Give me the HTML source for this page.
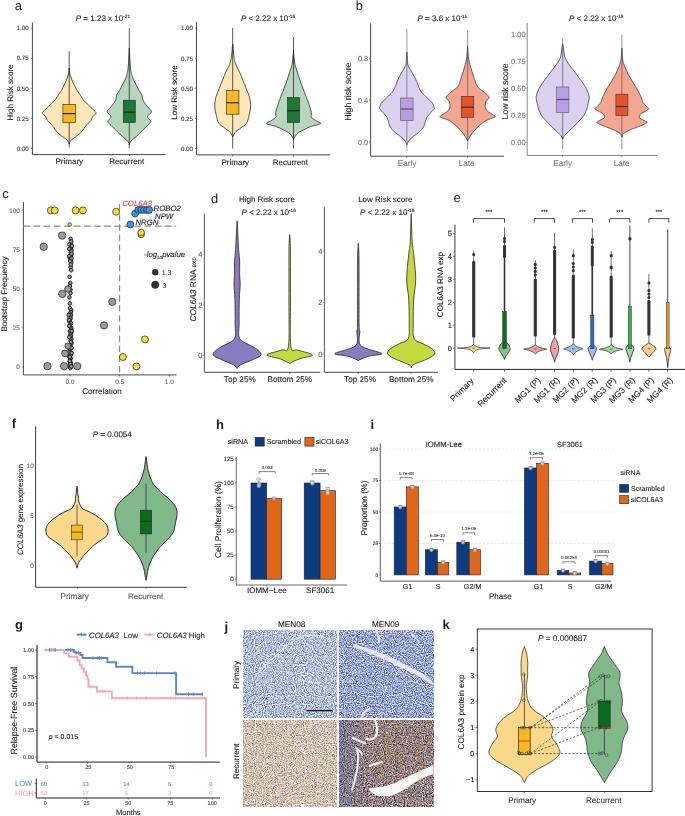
<!DOCTYPE html>
<html><head><meta charset="utf-8"><style>
html,body{margin:0;padding:0;background:#fff;}
svg{display:block;font-family:"Liberation Sans", sans-serif;will-change:transform;text-rendering:geometricPrecision;}
</style></head><body>
<svg width="685" height="816" viewBox="0 0 685 816">
<rect width="685" height="816" fill="#fff"/>
<text x="14.80" y="10.20" font-size="13" text-anchor="start" fill="#222" font-weight="normal" font-style="normal" >a</text>
<line x1="32.40" y1="22.60" x2="32.40" y2="154.60" stroke="#333" stroke-width="0.9" />
<line x1="30.90" y1="28.20" x2="32.40" y2="28.20" stroke="#333" stroke-width="0.6" />
<text stroke="#333" stroke-width="0.1" x="28.70" y="30.43" font-size="6.2" text-anchor="end" fill="#333" font-weight="normal" font-style="normal" >1.00</text>
<line x1="30.90" y1="58.25" x2="32.40" y2="58.25" stroke="#333" stroke-width="0.6" />
<text stroke="#333" stroke-width="0.1" x="28.70" y="60.48" font-size="6.2" text-anchor="end" fill="#333" font-weight="normal" font-style="normal" >0.75</text>
<line x1="30.90" y1="88.30" x2="32.40" y2="88.30" stroke="#333" stroke-width="0.6" />
<text stroke="#333" stroke-width="0.1" x="28.70" y="90.53" font-size="6.2" text-anchor="end" fill="#333" font-weight="normal" font-style="normal" >0.50</text>
<line x1="30.90" y1="118.35" x2="32.40" y2="118.35" stroke="#333" stroke-width="0.6" />
<text stroke="#333" stroke-width="0.1" x="28.70" y="120.58" font-size="6.2" text-anchor="end" fill="#333" font-weight="normal" font-style="normal" >0.25</text>
<line x1="30.90" y1="148.40" x2="32.40" y2="148.40" stroke="#333" stroke-width="0.6" />
<text stroke="#333" stroke-width="0.1" x="28.70" y="150.63" font-size="6.2" text-anchor="end" fill="#333" font-weight="normal" font-style="normal" >0.00</text>
<line x1="32.40" y1="154.60" x2="165.60" y2="154.60" stroke="#333" stroke-width="0.9" />
<line x1="68.90" y1="154.60" x2="68.90" y2="156.10" stroke="#333" stroke-width="0.7" />
<line x1="129.50" y1="154.60" x2="129.50" y2="156.10" stroke="#333" stroke-width="0.7" />
<text stroke="#222" stroke-width="0.1" x="75.80" y="21.40" font-size="8" fill="#222"><tspan font-style="italic">P</tspan> = 1.23 x 10<tspan font-size="4.8" dy="-3">-21</tspan></text>
<text stroke="#222" stroke-width="0.1" transform="translate(13.00,92.50) rotate(-90)" font-size="8" text-anchor="middle" fill="#222" font-style="normal" >High Risk score</text>
<text stroke="#222" stroke-width="0.1" x="69.30" y="163.90" font-size="8" text-anchor="middle" fill="#222" font-weight="normal" font-style="normal" >Primary</text>
<text stroke="#222" stroke-width="0.1" x="126.70" y="163.90" font-size="8" text-anchor="middle" fill="#222" font-weight="normal" font-style="normal" >Recurrent</text>
<path d="M69.20,68.00 C69.27,68.67 69.42,70.80 69.60,72.00 C69.78,73.20 70.00,74.12 70.30,75.20 C70.60,76.28 70.97,77.32 71.40,78.50 C71.83,79.68 72.33,81.05 72.90,82.30 C73.47,83.55 74.22,84.83 74.80,86.00 C75.38,87.17 75.67,88.05 76.40,89.30 C77.13,90.55 78.40,92.30 79.20,93.50 C80.00,94.70 80.62,95.55 81.20,96.50 C81.78,97.45 82.12,98.37 82.70,99.20 C83.28,100.03 84.00,100.80 84.70,101.50 C85.40,102.20 86.05,102.62 86.90,103.40 C87.75,104.18 88.62,105.03 89.80,106.20 C90.98,107.37 92.95,109.23 94.00,110.40 C95.05,111.57 96.33,112.13 96.10,113.20 C95.87,114.27 93.43,115.62 92.60,116.80 C91.77,117.98 91.83,119.25 91.10,120.30 C90.37,121.35 89.27,121.93 88.20,123.10 C87.13,124.27 85.75,125.90 84.70,127.30 C83.65,128.70 83.20,130.08 81.90,131.50 C80.60,132.92 78.67,134.38 76.90,135.80 C75.13,137.22 72.50,138.95 71.30,140.00 C70.10,141.05 70.05,141.43 69.70,142.10 C69.35,142.77 69.28,143.68 69.20,144.00 L69.20,144.00 C69.12,143.68 69.05,142.77 68.70,142.10 C68.35,141.43 68.30,141.05 67.10,140.00 C65.90,138.95 63.27,137.22 61.50,135.80 C59.73,134.38 57.80,132.92 56.50,131.50 C55.20,130.08 54.75,128.70 53.70,127.30 C52.65,125.90 51.27,124.27 50.20,123.10 C49.13,121.93 48.03,121.35 47.30,120.30 C46.57,119.25 46.63,117.98 45.80,116.80 C44.97,115.62 42.53,114.27 42.30,113.20 C42.07,112.13 43.35,111.57 44.40,110.40 C45.45,109.23 47.42,107.37 48.60,106.20 C49.78,105.03 50.65,104.18 51.50,103.40 C52.35,102.62 53.00,102.20 53.70,101.50 C54.40,100.80 55.12,100.03 55.70,99.20 C56.28,98.37 56.62,97.45 57.20,96.50 C57.78,95.55 58.40,94.70 59.20,93.50 C60.00,92.30 61.27,90.55 62.00,89.30 C62.73,88.05 63.02,87.17 63.60,86.00 C64.18,84.83 64.93,83.55 65.50,82.30 C66.07,81.05 66.57,79.68 67.00,78.50 C67.43,77.32 67.80,76.28 68.10,75.20 C68.40,74.12 68.62,73.20 68.80,72.00 C68.98,70.80 69.13,68.67 69.20,68.00 Z" fill="#FDE6B8" stroke="#1e1e1e" stroke-width="0.75" />
<line x1="69.20" y1="51.40" x2="69.20" y2="147.50" stroke="#222" stroke-width="0.75" />
<rect x="62.90" y="104.40" width="12.60" height="18.20" fill="#F8B821" stroke="#222" stroke-width="0.6" />
<line x1="62.90" y1="113.60" x2="75.50" y2="113.60" stroke="#222" stroke-width="1.2" />
<path d="M129.30,48.00 C129.35,48.95 129.47,51.17 129.60,53.70 C129.73,56.23 129.88,60.28 130.10,63.20 C130.32,66.12 130.58,69.15 130.90,71.20 C131.22,73.25 131.60,74.17 132.00,75.50 C132.40,76.83 132.55,77.53 133.30,79.20 C134.05,80.87 135.57,83.65 136.50,85.50 C137.43,87.35 137.98,88.70 138.90,90.30 C139.82,91.90 141.35,93.50 142.00,95.10 C142.65,96.70 142.13,98.30 142.80,99.90 C143.47,101.50 144.95,103.27 146.00,104.70 C147.05,106.13 148.17,107.32 149.10,108.50 C150.03,109.68 151.65,110.75 151.60,111.80 C151.55,112.85 149.47,113.87 148.80,114.80 C148.13,115.73 147.27,116.30 147.60,117.40 C147.93,118.50 150.80,120.07 150.80,121.40 C150.80,122.73 148.93,123.95 147.60,125.40 C146.27,126.85 144.38,128.52 142.80,130.10 C141.22,131.68 139.82,133.30 138.10,134.90 C136.38,136.50 133.88,138.37 132.50,139.70 C131.12,141.03 130.33,142.02 129.80,142.90 C129.27,143.78 129.38,144.65 129.30,145.00 L129.30,145.00 C129.22,144.65 129.33,143.78 128.80,142.90 C128.27,142.02 127.48,141.03 126.10,139.70 C124.72,138.37 122.22,136.50 120.50,134.90 C118.78,133.30 117.38,131.68 115.80,130.10 C114.22,128.52 112.33,126.85 111.00,125.40 C109.67,123.95 107.80,122.73 107.80,121.40 C107.80,120.07 110.67,118.50 111.00,117.40 C111.33,116.30 110.47,115.73 109.80,114.80 C109.13,113.87 107.05,112.85 107.00,111.80 C106.95,110.75 108.57,109.68 109.50,108.50 C110.43,107.32 111.55,106.13 112.60,104.70 C113.65,103.27 115.13,101.50 115.80,99.90 C116.47,98.30 115.95,96.70 116.60,95.10 C117.25,93.50 118.78,91.90 119.70,90.30 C120.62,88.70 121.17,87.35 122.10,85.50 C123.03,83.65 124.55,80.87 125.30,79.20 C126.05,77.53 126.20,76.83 126.60,75.50 C127.00,74.17 127.38,73.25 127.70,71.20 C128.02,69.15 128.28,66.12 128.50,63.20 C128.72,60.28 128.87,56.23 129.00,53.70 C129.13,51.17 129.25,48.95 129.30,48.00 Z" fill="#B7D6BD" stroke="#1e1e1e" stroke-width="0.75" />
<line x1="129.30" y1="28.20" x2="129.30" y2="148.50" stroke="#222" stroke-width="0.75" />
<rect x="123.35" y="100.20" width="11.90" height="22.30" fill="#1E7A33" stroke="#222" stroke-width="0.6" />
<line x1="123.35" y1="112.10" x2="135.25" y2="112.10" stroke="#222" stroke-width="1.2" />
<line x1="196.50" y1="22.10" x2="196.50" y2="154.90" stroke="#333" stroke-width="0.9" />
<line x1="195.00" y1="28.20" x2="196.50" y2="28.20" stroke="#333" stroke-width="0.6" />
<text stroke="#333" stroke-width="0.1" x="193.00" y="30.43" font-size="6.2" text-anchor="end" fill="#333" font-weight="normal" font-style="normal" >1.00</text>
<line x1="195.00" y1="58.28" x2="196.50" y2="58.28" stroke="#333" stroke-width="0.6" />
<text stroke="#333" stroke-width="0.1" x="193.00" y="60.51" font-size="6.2" text-anchor="end" fill="#333" font-weight="normal" font-style="normal" >0.75</text>
<line x1="195.00" y1="88.35" x2="196.50" y2="88.35" stroke="#333" stroke-width="0.6" />
<text stroke="#333" stroke-width="0.1" x="193.00" y="90.58" font-size="6.2" text-anchor="end" fill="#333" font-weight="normal" font-style="normal" >0.50</text>
<line x1="195.00" y1="118.42" x2="196.50" y2="118.42" stroke="#333" stroke-width="0.6" />
<text stroke="#333" stroke-width="0.1" x="193.00" y="120.66" font-size="6.2" text-anchor="end" fill="#333" font-weight="normal" font-style="normal" >0.25</text>
<line x1="195.00" y1="148.50" x2="196.50" y2="148.50" stroke="#333" stroke-width="0.6" />
<text stroke="#333" stroke-width="0.1" x="193.00" y="150.73" font-size="6.2" text-anchor="end" fill="#333" font-weight="normal" font-style="normal" >0.00</text>
<line x1="196.50" y1="154.90" x2="330.00" y2="154.90" stroke="#333" stroke-width="0.9" />
<line x1="232.70" y1="154.90" x2="232.70" y2="156.40" stroke="#333" stroke-width="0.7" />
<line x1="293.60" y1="154.90" x2="293.60" y2="156.40" stroke="#333" stroke-width="0.7" />
<text stroke="#222" stroke-width="0.1" x="240.90" y="21.40" font-size="8" fill="#222"><tspan font-style="italic">P</tspan> &lt; 2.22 x 10<tspan font-size="4.8" dy="-3">-16</tspan></text>
<text stroke="#222" stroke-width="0.1" transform="translate(177.30,92.50) rotate(-90)" font-size="8" text-anchor="middle" fill="#222" font-style="normal" >Low Risk score</text>
<text stroke="#222" stroke-width="0.1" x="235.30" y="164.60" font-size="8" text-anchor="middle" fill="#222" font-weight="normal" font-style="normal" >Primary</text>
<text stroke="#222" stroke-width="0.1" x="290.30" y="164.60" font-size="8" text-anchor="middle" fill="#222" font-weight="normal" font-style="normal" >Recurrent</text>
<path d="M232.70,44.00 C232.78,44.82 233.00,46.75 233.20,48.90 C233.40,51.05 233.65,54.92 233.90,56.90 C234.15,58.88 234.37,59.48 234.70,60.80 C235.03,62.12 235.37,63.47 235.90,64.80 C236.43,66.13 237.23,67.47 237.90,68.80 C238.57,70.13 239.28,71.47 239.90,72.80 C240.52,74.13 241.07,75.47 241.60,76.80 C242.13,78.13 242.58,79.48 243.10,80.80 C243.62,82.12 244.18,83.38 244.70,84.70 C245.22,86.02 245.67,87.37 246.20,88.70 C246.73,90.03 247.37,91.37 247.90,92.70 C248.43,94.03 249.02,95.37 249.40,96.70 C249.78,98.03 249.98,99.37 250.20,100.70 C250.42,102.03 250.65,103.48 250.70,104.70 C250.75,105.92 250.58,106.95 250.50,108.00 C250.42,109.05 250.40,109.97 250.20,111.00 C250.00,112.03 249.57,113.13 249.30,114.20 C249.03,115.27 248.90,116.20 248.60,117.40 C248.30,118.60 248.03,120.20 247.50,121.40 C246.97,122.60 246.20,123.73 245.40,124.60 C244.60,125.47 243.62,125.93 242.70,126.60 C241.78,127.27 240.80,127.95 239.90,128.60 C239.00,129.25 238.10,129.85 237.30,130.50 C236.50,131.15 235.78,131.63 235.10,132.50 C234.42,133.37 233.60,134.95 233.20,135.70 C232.80,136.45 232.78,136.78 232.70,137.00 L232.70,137.00 C232.62,136.78 232.60,136.45 232.20,135.70 C231.80,134.95 230.98,133.37 230.30,132.50 C229.62,131.63 228.90,131.15 228.10,130.50 C227.30,129.85 226.40,129.25 225.50,128.60 C224.60,127.95 223.62,127.27 222.70,126.60 C221.78,125.93 220.80,125.47 220.00,124.60 C219.20,123.73 218.43,122.60 217.90,121.40 C217.37,120.20 217.10,118.60 216.80,117.40 C216.50,116.20 216.37,115.27 216.10,114.20 C215.83,113.13 215.40,112.03 215.20,111.00 C215.00,109.97 214.98,109.05 214.90,108.00 C214.82,106.95 214.65,105.92 214.70,104.70 C214.75,103.48 214.98,102.03 215.20,100.70 C215.42,99.37 215.62,98.03 216.00,96.70 C216.38,95.37 216.97,94.03 217.50,92.70 C218.03,91.37 218.67,90.03 219.20,88.70 C219.73,87.37 220.18,86.02 220.70,84.70 C221.22,83.38 221.78,82.12 222.30,80.80 C222.82,79.48 223.27,78.13 223.80,76.80 C224.33,75.47 224.88,74.13 225.50,72.80 C226.12,71.47 226.83,70.13 227.50,68.80 C228.17,67.47 228.97,66.13 229.50,64.80 C230.03,63.47 230.37,62.12 230.70,60.80 C231.03,59.48 231.25,58.88 231.50,56.90 C231.75,54.92 232.00,51.05 232.20,48.90 C232.40,46.75 232.62,44.82 232.70,44.00 Z" fill="#FDE6B8" stroke="#1e1e1e" stroke-width="0.75" />
<line x1="232.70" y1="27.90" x2="232.70" y2="148.50" stroke="#222" stroke-width="0.75" />
<rect x="226.50" y="90.30" width="12.40" height="23.90" fill="#F8B821" stroke="#222" stroke-width="0.6" />
<line x1="226.50" y1="102.70" x2="238.90" y2="102.70" stroke="#222" stroke-width="1.2" />
<path d="M293.50,50.00 C293.58,51.15 293.73,54.43 294.00,56.90 C294.27,59.37 294.73,62.82 295.10,64.80 C295.47,66.78 295.80,67.47 296.20,68.80 C296.60,70.13 297.07,71.47 297.50,72.80 C297.93,74.13 298.35,75.47 298.80,76.80 C299.25,78.13 299.73,79.48 300.20,80.80 C300.67,82.12 301.12,83.38 301.60,84.70 C302.08,86.02 302.60,87.37 303.10,88.70 C303.60,90.03 304.08,91.37 304.60,92.70 C305.12,94.03 305.68,95.37 306.20,96.70 C306.72,98.03 307.22,99.37 307.70,100.70 C308.18,102.03 308.65,103.38 309.10,104.70 C309.55,106.02 310.03,107.28 310.40,108.60 C310.77,109.92 311.15,111.50 311.30,112.60 C311.45,113.70 311.28,114.40 311.30,115.20 C311.32,116.00 310.65,116.50 311.40,117.40 C312.15,118.30 314.27,119.58 315.80,120.60 C317.33,121.62 321.27,122.57 320.60,123.50 C319.93,124.43 314.07,125.42 311.80,126.20 C309.53,126.98 308.45,127.55 307.00,128.20 C305.55,128.85 304.35,129.45 303.10,130.10 C301.85,130.75 300.57,131.43 299.50,132.10 C298.43,132.77 297.62,133.10 296.70,134.10 C295.78,135.10 294.53,137.20 294.00,138.10 C293.47,139.00 293.58,139.27 293.50,139.50 L293.50,139.50 C293.42,139.27 293.53,139.00 293.00,138.10 C292.47,137.20 291.22,135.10 290.30,134.10 C289.38,133.10 288.57,132.77 287.50,132.10 C286.43,131.43 285.15,130.75 283.90,130.10 C282.65,129.45 281.45,128.85 280.00,128.20 C278.55,127.55 277.47,126.98 275.20,126.20 C272.93,125.42 267.07,124.43 266.40,123.50 C265.73,122.57 269.67,121.62 271.20,120.60 C272.73,119.58 274.85,118.30 275.60,117.40 C276.35,116.50 275.68,116.00 275.70,115.20 C275.72,114.40 275.55,113.70 275.70,112.60 C275.85,111.50 276.23,109.92 276.60,108.60 C276.97,107.28 277.45,106.02 277.90,104.70 C278.35,103.38 278.82,102.03 279.30,100.70 C279.78,99.37 280.28,98.03 280.80,96.70 C281.32,95.37 281.88,94.03 282.40,92.70 C282.92,91.37 283.40,90.03 283.90,88.70 C284.40,87.37 284.92,86.02 285.40,84.70 C285.88,83.38 286.33,82.12 286.80,80.80 C287.27,79.48 287.75,78.13 288.20,76.80 C288.65,75.47 289.07,74.13 289.50,72.80 C289.93,71.47 290.40,70.13 290.80,68.80 C291.20,67.47 291.53,66.78 291.90,64.80 C292.27,62.82 292.73,59.37 293.00,56.90 C293.27,54.43 293.42,51.15 293.50,50.00 Z" fill="#B7D6BD" stroke="#1e1e1e" stroke-width="0.75" />
<line x1="293.50" y1="37.00" x2="293.50" y2="148.50" stroke="#222" stroke-width="0.75" />
<rect x="287.45" y="97.50" width="12.10" height="25.00" fill="#1E7A33" stroke="#222" stroke-width="0.6" />
<line x1="287.45" y1="110.70" x2="299.55" y2="110.70" stroke="#222" stroke-width="1.2" />
<text x="355.80" y="10.20" font-size="13" text-anchor="start" fill="#222" font-weight="normal" font-style="normal" >b</text>
<line x1="370.60" y1="23.40" x2="370.60" y2="156.20" stroke="#333" stroke-width="0.9" />
<line x1="369.10" y1="58.64" x2="370.60" y2="58.64" stroke="#333" stroke-width="0.6" />
<text stroke="#777" stroke-width="0.1" x="368.20" y="61.30" font-size="7.4" text-anchor="end" fill="#777" font-weight="normal" font-style="normal" >0.8</text>
<line x1="369.10" y1="100.32" x2="370.60" y2="100.32" stroke="#333" stroke-width="0.6" />
<text stroke="#777" stroke-width="0.1" x="368.20" y="102.98" font-size="7.4" text-anchor="end" fill="#777" font-weight="normal" font-style="normal" >0.4</text>
<line x1="369.10" y1="142.00" x2="370.60" y2="142.00" stroke="#333" stroke-width="0.6" />
<text stroke="#777" stroke-width="0.1" x="368.20" y="144.66" font-size="7.4" text-anchor="end" fill="#777" font-weight="normal" font-style="normal" >0.0</text>
<line x1="370.60" y1="156.20" x2="504.00" y2="156.20" stroke="#333" stroke-width="0.9" />
<line x1="406.70" y1="156.20" x2="406.70" y2="157.70" stroke="#333" stroke-width="0.7" />
<line x1="467.60" y1="156.20" x2="467.60" y2="157.70" stroke="#333" stroke-width="0.7" />
<text stroke="#222" stroke-width="0.1" x="417.50" y="21.40" font-size="8" fill="#222"><tspan font-style="italic">P</tspan> = 3.6 x 10<tspan font-size="4.8" dy="-3">-15</tspan></text>
<text stroke="#222" stroke-width="0.1" transform="translate(350.60,91.60) rotate(-90)" font-size="8.8" text-anchor="middle" fill="#222" font-style="normal" >High risk score</text>
<text stroke="#777" stroke-width="0.1" x="407.10" y="166.30" font-size="8.2" text-anchor="middle" fill="#777" font-weight="normal" font-style="normal" >Early</text>
<text stroke="#777" stroke-width="0.1" x="466.60" y="166.30" font-size="8.2" text-anchor="middle" fill="#777" font-weight="normal" font-style="normal" >Late</text>
<path d="M406.90,52.00 C406.98,52.82 407.27,54.90 407.40,56.90 C407.53,58.90 407.45,62.35 407.70,64.00 C407.95,65.65 408.45,65.87 408.90,66.80 C409.35,67.73 409.77,68.47 410.40,69.60 C411.03,70.73 411.95,72.27 412.70,73.60 C413.45,74.93 414.23,76.28 414.90,77.60 C415.57,78.92 416.17,80.18 416.70,81.50 C417.23,82.82 417.62,84.30 418.10,85.50 C418.58,86.70 419.08,87.63 419.60,88.70 C420.12,89.77 420.40,90.83 421.20,91.90 C422.00,92.97 423.33,94.03 424.40,95.10 C425.47,96.17 426.63,97.37 427.60,98.30 C428.57,99.23 429.40,99.90 430.20,100.70 C431.00,101.50 431.72,101.92 432.40,103.10 C433.08,104.28 434.22,106.62 434.30,107.80 C434.38,108.98 433.48,109.40 432.90,110.20 C432.32,111.00 431.50,111.80 430.80,112.60 C430.10,113.40 429.37,114.20 428.70,115.00 C428.03,115.80 427.38,116.20 426.80,117.40 C426.22,118.60 425.73,120.60 425.20,122.20 C424.67,123.80 424.53,125.42 423.60,127.00 C422.67,128.58 420.75,130.53 419.60,131.70 C418.45,132.87 417.75,133.20 416.70,134.00 C415.65,134.80 414.33,135.67 413.30,136.50 C412.27,137.33 411.30,138.20 410.50,139.00 C409.70,139.80 409.02,140.52 408.50,141.30 C407.98,142.08 407.67,143.08 407.40,143.70 C407.13,144.32 406.98,144.78 406.90,145.00 L406.90,145.00 C406.82,144.78 406.67,144.32 406.40,143.70 C406.13,143.08 405.82,142.08 405.30,141.30 C404.78,140.52 404.10,139.80 403.30,139.00 C402.50,138.20 401.53,137.33 400.50,136.50 C399.47,135.67 398.15,134.80 397.10,134.00 C396.05,133.20 395.35,132.87 394.20,131.70 C393.05,130.53 391.13,128.58 390.20,127.00 C389.27,125.42 389.13,123.80 388.60,122.20 C388.07,120.60 387.58,118.60 387.00,117.40 C386.42,116.20 385.77,115.80 385.10,115.00 C384.43,114.20 383.70,113.40 383.00,112.60 C382.30,111.80 381.48,111.00 380.90,110.20 C380.32,109.40 379.42,108.98 379.50,107.80 C379.58,106.62 380.72,104.28 381.40,103.10 C382.08,101.92 382.80,101.50 383.60,100.70 C384.40,99.90 385.23,99.23 386.20,98.30 C387.17,97.37 388.33,96.17 389.40,95.10 C390.47,94.03 391.80,92.97 392.60,91.90 C393.40,90.83 393.68,89.77 394.20,88.70 C394.72,87.63 395.22,86.70 395.70,85.50 C396.18,84.30 396.57,82.82 397.10,81.50 C397.63,80.18 398.23,78.92 398.90,77.60 C399.57,76.28 400.35,74.93 401.10,73.60 C401.85,72.27 402.77,70.73 403.40,69.60 C404.03,68.47 404.45,67.73 404.90,66.80 C405.35,65.87 405.85,65.65 406.10,64.00 C406.35,62.35 406.27,58.90 406.40,56.90 C406.53,54.90 406.82,52.82 406.90,52.00 Z" fill="#DCD0F1" stroke="#333" stroke-width="0.75" />
<line x1="406.90" y1="29.00" x2="406.90" y2="150.90" stroke="#555" stroke-width="0.6" />
<rect x="400.70" y="98.00" width="12.40" height="22.60" fill="#B89EE4" stroke="#555" stroke-width="0.6" />
<line x1="400.70" y1="109.00" x2="413.10" y2="109.00" stroke="#555" stroke-width="1.2" />
<path d="M467.60,46.00 C467.65,46.75 467.77,48.68 467.90,50.50 C468.03,52.32 468.20,55.18 468.40,56.90 C468.60,58.62 468.83,59.48 469.10,60.80 C469.37,62.12 469.53,63.07 470.00,64.80 C470.47,66.53 471.23,69.07 471.90,71.20 C472.57,73.33 473.32,75.48 474.00,77.60 C474.68,79.72 475.43,82.45 476.00,83.90 C476.57,85.35 476.82,85.50 477.40,86.30 C477.98,87.10 478.58,87.90 479.50,88.70 C480.42,89.50 481.83,90.30 482.90,91.10 C483.97,91.90 485.07,92.77 485.90,93.50 C486.73,94.23 487.37,94.83 487.90,95.50 C488.43,96.17 489.12,96.83 489.10,97.50 C489.08,98.17 488.33,98.83 487.80,99.50 C487.27,100.17 486.35,100.38 485.90,101.50 C485.45,102.62 485.10,104.95 485.10,106.20 C485.10,107.45 485.37,108.07 485.90,109.00 C486.43,109.93 487.27,110.93 488.30,111.80 C489.33,112.67 490.95,113.40 492.10,114.20 C493.25,115.00 495.37,115.87 495.20,116.60 C495.03,117.33 492.65,117.93 491.10,118.60 C489.55,119.27 487.83,119.47 485.90,120.60 C483.97,121.73 481.35,123.82 479.50,125.40 C477.65,126.98 476.03,128.78 474.80,130.10 C473.57,131.42 472.90,132.23 472.10,133.30 C471.30,134.37 470.67,135.43 470.00,136.50 C469.33,137.57 468.50,138.95 468.10,139.70 C467.70,140.45 467.68,140.78 467.60,141.00 L467.60,141.00 C467.52,140.78 467.50,140.45 467.10,139.70 C466.70,138.95 465.87,137.57 465.20,136.50 C464.53,135.43 463.90,134.37 463.10,133.30 C462.30,132.23 461.63,131.42 460.40,130.10 C459.17,128.78 457.55,126.98 455.70,125.40 C453.85,123.82 451.23,121.73 449.30,120.60 C447.37,119.47 445.65,119.27 444.10,118.60 C442.55,117.93 440.17,117.33 440.00,116.60 C439.83,115.87 441.95,115.00 443.10,114.20 C444.25,113.40 445.87,112.67 446.90,111.80 C447.93,110.93 448.77,109.93 449.30,109.00 C449.83,108.07 450.10,107.45 450.10,106.20 C450.10,104.95 449.75,102.62 449.30,101.50 C448.85,100.38 447.93,100.17 447.40,99.50 C446.87,98.83 446.12,98.17 446.10,97.50 C446.08,96.83 446.77,96.17 447.30,95.50 C447.83,94.83 448.47,94.23 449.30,93.50 C450.13,92.77 451.23,91.90 452.30,91.10 C453.37,90.30 454.78,89.50 455.70,88.70 C456.62,87.90 457.22,87.10 457.80,86.30 C458.38,85.50 458.63,85.35 459.20,83.90 C459.77,82.45 460.52,79.72 461.20,77.60 C461.88,75.48 462.63,73.33 463.30,71.20 C463.97,69.07 464.73,66.53 465.20,64.80 C465.67,63.07 465.83,62.12 466.10,60.80 C466.37,59.48 466.60,58.62 466.80,56.90 C467.00,55.18 467.17,52.32 467.30,50.50 C467.43,48.68 467.55,46.75 467.60,46.00 Z" fill="#F2A690" stroke="#333" stroke-width="0.75" />
<line x1="467.60" y1="30.60" x2="467.60" y2="149.30" stroke="#444" stroke-width="0.6" />
<rect x="461.45" y="96.40" width="12.30" height="21.00" fill="#E5542A" stroke="#333" stroke-width="0.6" />
<line x1="461.45" y1="107.20" x2="473.75" y2="107.20" stroke="#333" stroke-width="1.2" />
<line x1="527.20" y1="23.00" x2="527.20" y2="155.50" stroke="#888" stroke-width="1.0" />
<line x1="525.70" y1="34.00" x2="527.20" y2="34.00" stroke="#888" stroke-width="0.6" />
<text stroke="#777" stroke-width="0.1" x="525.50" y="36.66" font-size="7.4" text-anchor="end" fill="#777" font-weight="normal" font-style="normal" >1.00</text>
<line x1="525.70" y1="61.10" x2="527.20" y2="61.10" stroke="#888" stroke-width="0.6" />
<text stroke="#777" stroke-width="0.1" x="525.50" y="63.76" font-size="7.4" text-anchor="end" fill="#777" font-weight="normal" font-style="normal" >0.75</text>
<line x1="525.70" y1="88.20" x2="527.20" y2="88.20" stroke="#888" stroke-width="0.6" />
<text stroke="#777" stroke-width="0.1" x="525.50" y="90.86" font-size="7.4" text-anchor="end" fill="#777" font-weight="normal" font-style="normal" >0.50</text>
<line x1="525.70" y1="115.30" x2="527.20" y2="115.30" stroke="#888" stroke-width="0.6" />
<text stroke="#777" stroke-width="0.1" x="525.50" y="117.96" font-size="7.4" text-anchor="end" fill="#777" font-weight="normal" font-style="normal" >0.25</text>
<line x1="525.70" y1="142.40" x2="527.20" y2="142.40" stroke="#888" stroke-width="0.6" />
<text stroke="#777" stroke-width="0.1" x="525.50" y="145.06" font-size="7.4" text-anchor="end" fill="#777" font-weight="normal" font-style="normal" >0.00</text>
<line x1="527.20" y1="155.50" x2="657.00" y2="155.50" stroke="#777" stroke-width="0.9" />
<line x1="562.50" y1="155.50" x2="562.50" y2="157.00" stroke="#777" stroke-width="0.7" />
<line x1="621.70" y1="155.50" x2="621.70" y2="157.00" stroke="#777" stroke-width="0.7" />
<text stroke="#222" stroke-width="0.1" x="569.00" y="21.40" font-size="8" fill="#222"><tspan font-style="italic">P</tspan> &lt; 2.22 x 10<tspan font-size="4.8" dy="-3">-16</tspan></text>
<text stroke="#222" stroke-width="0.1" transform="translate(507.60,91.40) rotate(-90)" font-size="8.8" text-anchor="middle" fill="#222" font-style="normal" >Low risk score</text>
<text stroke="#777" stroke-width="0.1" x="562.70" y="166.30" font-size="8.2" text-anchor="middle" fill="#777" font-weight="normal" font-style="normal" >Early</text>
<text stroke="#777" stroke-width="0.1" x="621.70" y="166.30" font-size="8.2" text-anchor="middle" fill="#777" font-weight="normal" font-style="normal" >Late</text>
<path d="M562.70,44.00 C562.78,44.32 563.05,45.07 563.20,45.90 C563.35,46.73 563.47,47.93 563.60,49.00 C563.73,50.07 563.87,51.30 564.00,52.30 C564.13,53.30 564.22,54.07 564.40,55.00 C564.58,55.93 564.75,56.95 565.10,57.90 C565.45,58.85 565.97,59.77 566.50,60.70 C567.03,61.63 567.62,62.52 568.30,63.50 C568.98,64.48 569.80,65.55 570.60,66.60 C571.40,67.65 572.28,68.73 573.10,69.80 C573.92,70.87 574.72,71.93 575.50,73.00 C576.28,74.07 577.00,75.13 577.80,76.20 C578.60,77.27 579.50,78.33 580.30,79.40 C581.10,80.47 581.87,81.55 582.60,82.60 C583.33,83.65 584.03,84.65 584.70,85.70 C585.37,86.75 586.02,87.70 586.60,88.90 C587.18,90.10 587.75,91.57 588.20,92.90 C588.65,94.23 589.18,95.70 589.30,96.90 C589.42,98.10 589.08,99.03 588.90,100.10 C588.72,101.17 588.43,102.23 588.20,103.30 C587.97,104.37 587.77,105.43 587.50,106.50 C587.23,107.57 586.98,108.63 586.60,109.70 C586.22,110.77 585.73,111.85 585.20,112.90 C584.67,113.95 584.13,114.95 583.40,116.00 C582.67,117.05 581.73,118.13 580.80,119.20 C579.87,120.27 578.82,121.33 577.80,122.40 C576.78,123.47 575.75,124.53 574.70,125.60 C573.65,126.67 572.53,127.80 571.50,128.80 C570.47,129.80 569.43,130.68 568.50,131.60 C567.57,132.52 566.62,133.57 565.90,134.30 C565.18,135.03 564.65,135.47 564.20,136.00 C563.75,136.53 563.45,137.00 563.20,137.50 C562.95,138.00 562.78,138.75 562.70,139.00 L562.70,139.00 C562.62,138.75 562.45,138.00 562.20,137.50 C561.95,137.00 561.65,136.53 561.20,136.00 C560.75,135.47 560.22,135.03 559.50,134.30 C558.78,133.57 557.83,132.52 556.90,131.60 C555.97,130.68 554.93,129.80 553.90,128.80 C552.87,127.80 551.75,126.67 550.70,125.60 C549.65,124.53 548.62,123.47 547.60,122.40 C546.58,121.33 545.53,120.27 544.60,119.20 C543.67,118.13 542.73,117.05 542.00,116.00 C541.27,114.95 540.73,113.95 540.20,112.90 C539.67,111.85 539.18,110.77 538.80,109.70 C538.42,108.63 538.17,107.57 537.90,106.50 C537.63,105.43 537.43,104.37 537.20,103.30 C536.97,102.23 536.68,101.17 536.50,100.10 C536.32,99.03 535.98,98.10 536.10,96.90 C536.22,95.70 536.75,94.23 537.20,92.90 C537.65,91.57 538.22,90.10 538.80,88.90 C539.38,87.70 540.03,86.75 540.70,85.70 C541.37,84.65 542.07,83.65 542.80,82.60 C543.53,81.55 544.30,80.47 545.10,79.40 C545.90,78.33 546.80,77.27 547.60,76.20 C548.40,75.13 549.12,74.07 549.90,73.00 C550.68,71.93 551.48,70.87 552.30,69.80 C553.12,68.73 554.00,67.65 554.80,66.60 C555.60,65.55 556.42,64.48 557.10,63.50 C557.78,62.52 558.37,61.63 558.90,60.70 C559.43,59.77 559.95,58.85 560.30,57.90 C560.65,56.95 560.82,55.93 561.00,55.00 C561.18,54.07 561.27,53.30 561.40,52.30 C561.53,51.30 561.67,50.07 561.80,49.00 C561.93,47.93 562.05,46.73 562.20,45.90 C562.35,45.07 562.62,44.32 562.70,44.00 Z" fill="#DCD0F1" stroke="#333" stroke-width="0.75" />
<line x1="562.70" y1="38.00" x2="562.70" y2="149.50" stroke="#444" stroke-width="0.6" />
<rect x="556.50" y="87.00" width="12.40" height="25.50" fill="#B89EE4" stroke="#555" stroke-width="0.6" />
<line x1="556.50" y1="99.50" x2="568.90" y2="99.50" stroke="#555" stroke-width="1.2" />
<path d="M621.90,48.00 C621.95,48.98 622.03,51.85 622.20,53.90 C622.37,55.95 622.65,58.70 622.90,60.30 C623.15,61.90 623.38,62.45 623.70,63.50 C624.02,64.55 624.33,65.42 624.80,66.60 C625.27,67.78 625.92,69.27 626.50,70.60 C627.08,71.93 627.60,73.27 628.30,74.60 C629.00,75.93 629.90,77.27 630.70,78.60 C631.50,79.93 632.30,81.27 633.10,82.60 C633.90,83.93 634.72,85.28 635.50,86.60 C636.28,87.92 637.13,89.32 637.80,90.50 C638.47,91.68 638.97,92.63 639.50,93.70 C640.03,94.77 640.60,95.97 641.00,96.90 C641.40,97.83 641.63,98.50 641.90,99.30 C642.17,100.10 642.30,101.03 642.60,101.70 C642.90,102.37 643.30,102.77 643.70,103.30 C644.10,103.83 644.43,104.30 645.00,104.90 C645.57,105.50 646.48,106.23 647.10,106.90 C647.72,107.57 648.98,108.18 648.70,108.90 C648.42,109.62 646.68,110.42 645.40,111.20 C644.12,111.98 641.95,112.87 641.00,113.60 C640.05,114.33 639.97,114.93 639.70,115.60 C639.43,116.27 638.87,116.88 639.40,117.60 C639.93,118.32 641.62,119.15 642.90,119.90 C644.18,120.65 646.85,121.42 647.10,122.10 C647.35,122.78 645.42,123.42 644.40,124.00 C643.38,124.58 642.42,125.00 641.00,125.60 C639.58,126.20 637.62,126.93 635.90,127.60 C634.18,128.27 632.23,128.93 630.70,129.60 C629.17,130.27 627.90,130.93 626.70,131.60 C625.50,132.27 624.22,132.88 623.50,133.60 C622.78,134.32 622.67,135.33 622.40,135.90 C622.13,136.47 621.98,136.82 621.90,137.00 L621.90,137.00 C621.82,136.82 621.67,136.47 621.40,135.90 C621.13,135.33 621.02,134.32 620.30,133.60 C619.58,132.88 618.30,132.27 617.10,131.60 C615.90,130.93 614.63,130.27 613.10,129.60 C611.57,128.93 609.62,128.27 607.90,127.60 C606.18,126.93 604.22,126.20 602.80,125.60 C601.38,125.00 600.42,124.58 599.40,124.00 C598.38,123.42 596.45,122.78 596.70,122.10 C596.95,121.42 599.62,120.65 600.90,119.90 C602.18,119.15 603.87,118.32 604.40,117.60 C604.93,116.88 604.37,116.27 604.10,115.60 C603.83,114.93 603.75,114.33 602.80,113.60 C601.85,112.87 599.68,111.98 598.40,111.20 C597.12,110.42 595.38,109.62 595.10,108.90 C594.82,108.18 596.08,107.57 596.70,106.90 C597.32,106.23 598.23,105.50 598.80,104.90 C599.37,104.30 599.70,103.83 600.10,103.30 C600.50,102.77 600.90,102.37 601.20,101.70 C601.50,101.03 601.63,100.10 601.90,99.30 C602.17,98.50 602.40,97.83 602.80,96.90 C603.20,95.97 603.77,94.77 604.30,93.70 C604.83,92.63 605.33,91.68 606.00,90.50 C606.67,89.32 607.52,87.92 608.30,86.60 C609.08,85.28 609.90,83.93 610.70,82.60 C611.50,81.27 612.30,79.93 613.10,78.60 C613.90,77.27 614.80,75.93 615.50,74.60 C616.20,73.27 616.72,71.93 617.30,70.60 C617.88,69.27 618.53,67.78 619.00,66.60 C619.47,65.42 619.78,64.55 620.10,63.50 C620.42,62.45 620.65,61.90 620.90,60.30 C621.15,58.70 621.43,55.95 621.60,53.90 C621.77,51.85 621.85,48.98 621.90,48.00 Z" fill="#F2A690" stroke="#333" stroke-width="0.75" />
<line x1="621.90" y1="34.80" x2="621.90" y2="149.50" stroke="#444" stroke-width="0.6" />
<rect x="615.90" y="94.20" width="12.00" height="21.40" fill="#E5542A" stroke="#333" stroke-width="0.6" />
<line x1="615.90" y1="106.50" x2="627.90" y2="106.50" stroke="#333" stroke-width="1.2" />
<text x="2.20" y="197.50" font-size="13" text-anchor="start" fill="#222" font-weight="normal" font-style="normal" >c</text>
<line x1="23.40" y1="201.90" x2="23.40" y2="374.90" stroke="#333" stroke-width="0.9" />
<line x1="21.90" y1="210.40" x2="23.40" y2="210.40" stroke="#333" stroke-width="0.6" />
<text stroke="#666" stroke-width="0.1" x="19.90" y="212.70" font-size="6.4" text-anchor="end" fill="#666" font-weight="normal" font-style="normal" >100</text>
<line x1="21.90" y1="249.55" x2="23.40" y2="249.55" stroke="#333" stroke-width="0.6" />
<text stroke="#666" stroke-width="0.1" x="19.90" y="251.85" font-size="6.4" text-anchor="end" fill="#666" font-weight="normal" font-style="normal" >75</text>
<line x1="21.90" y1="288.70" x2="23.40" y2="288.70" stroke="#333" stroke-width="0.6" />
<text stroke="#666" stroke-width="0.1" x="19.90" y="291.00" font-size="6.4" text-anchor="end" fill="#666" font-weight="normal" font-style="normal" >50</text>
<line x1="21.90" y1="327.85" x2="23.40" y2="327.85" stroke="#333" stroke-width="0.6" />
<text stroke="#666" stroke-width="0.1" x="19.90" y="330.15" font-size="6.4" text-anchor="end" fill="#666" font-weight="normal" font-style="normal" >25</text>
<line x1="21.90" y1="367.00" x2="23.40" y2="367.00" stroke="#333" stroke-width="0.6" />
<text stroke="#666" stroke-width="0.1" x="19.90" y="369.30" font-size="6.4" text-anchor="end" fill="#666" font-weight="normal" font-style="normal" >0</text>
<line x1="23.40" y1="374.90" x2="176.50" y2="374.90" stroke="#333" stroke-width="0.9" />
<line x1="70.00" y1="374.90" x2="70.00" y2="376.40" stroke="#333" stroke-width="0.7" />
<line x1="119.65" y1="374.90" x2="119.65" y2="376.40" stroke="#333" stroke-width="0.7" />
<line x1="169.30" y1="374.90" x2="169.30" y2="376.40" stroke="#333" stroke-width="0.7" />
<text stroke="#666" stroke-width="0.1" x="70.00" y="384.20" font-size="6.4" text-anchor="middle" fill="#666" font-weight="normal" font-style="normal" >0.0</text>
<text stroke="#666" stroke-width="0.1" x="119.65" y="384.20" font-size="6.4" text-anchor="middle" fill="#666" font-weight="normal" font-style="normal" >0.5</text>
<text stroke="#666" stroke-width="0.1" x="169.30" y="384.20" font-size="6.4" text-anchor="middle" fill="#666" font-weight="normal" font-style="normal" >1.0</text>
<text stroke="#222" stroke-width="0.1" x="102.00" y="394.30" font-size="8.1" text-anchor="middle" fill="#222" font-weight="normal" font-style="normal" >Correlation</text>
<text stroke="#222" stroke-width="0.1" transform="translate(6.60,294.00) rotate(-90)" font-size="8.1" text-anchor="middle" fill="#222" font-style="normal" >Bootstrap Frequency</text>
<line x1="23.40" y1="226.10" x2="176.20" y2="226.10" stroke="#888" stroke-width="1.1" stroke-dasharray="6.5,3.6"/>
<line x1="119.60" y1="204.10" x2="119.60" y2="374.90" stroke="#888" stroke-width="1.1" stroke-dasharray="6.5,3.6"/>
<circle cx="70.65" cy="238.80" r="1.80" fill="#9a9a9a" stroke="#222" stroke-width="1.0" />
<circle cx="70.88" cy="243.60" r="1.80" fill="#9a9a9a" stroke="#222" stroke-width="1.0" />
<circle cx="70.99" cy="247.50" r="1.80" fill="#9a9a9a" stroke="#222" stroke-width="1.0" />
<circle cx="71.28" cy="250.10" r="1.80" fill="#9a9a9a" stroke="#222" stroke-width="1.0" />
<circle cx="70.88" cy="252.80" r="1.80" fill="#9a9a9a" stroke="#222" stroke-width="1.0" />
<circle cx="71.24" cy="255.00" r="1.80" fill="#9a9a9a" stroke="#222" stroke-width="1.0" />
<circle cx="69.46" cy="257.10" r="1.80" fill="#9a9a9a" stroke="#222" stroke-width="1.0" />
<circle cx="70.33" cy="259.80" r="1.80" fill="#9a9a9a" stroke="#222" stroke-width="1.0" />
<circle cx="71.29" cy="262.40" r="1.80" fill="#9a9a9a" stroke="#222" stroke-width="1.0" />
<circle cx="70.70" cy="267.20" r="1.80" fill="#9a9a9a" stroke="#222" stroke-width="1.0" />
<circle cx="71.20" cy="270.30" r="1.80" fill="#9a9a9a" stroke="#222" stroke-width="1.0" />
<circle cx="69.63" cy="276.80" r="1.80" fill="#9a9a9a" stroke="#222" stroke-width="1.0" />
<circle cx="70.34" cy="283.00" r="1.80" fill="#9a9a9a" stroke="#222" stroke-width="1.0" />
<circle cx="69.89" cy="286.00" r="1.80" fill="#9a9a9a" stroke="#222" stroke-width="1.0" />
<circle cx="70.49" cy="289.50" r="1.80" fill="#9a9a9a" stroke="#222" stroke-width="1.0" />
<circle cx="70.55" cy="293.00" r="1.80" fill="#9a9a9a" stroke="#222" stroke-width="1.0" />
<circle cx="69.43" cy="297.40" r="1.80" fill="#9a9a9a" stroke="#222" stroke-width="1.0" />
<circle cx="69.83" cy="303.50" r="1.80" fill="#9a9a9a" stroke="#222" stroke-width="1.0" />
<circle cx="69.96" cy="308.20" r="1.80" fill="#9a9a9a" stroke="#222" stroke-width="1.0" />
<circle cx="71.23" cy="310.10" r="1.80" fill="#9a9a9a" stroke="#222" stroke-width="1.0" />
<circle cx="70.93" cy="312.00" r="1.80" fill="#9a9a9a" stroke="#222" stroke-width="1.0" />
<circle cx="69.72" cy="313.60" r="1.80" fill="#9a9a9a" stroke="#222" stroke-width="1.0" />
<circle cx="70.99" cy="315.20" r="1.80" fill="#9a9a9a" stroke="#222" stroke-width="1.0" />
<circle cx="69.68" cy="316.80" r="1.80" fill="#9a9a9a" stroke="#222" stroke-width="1.0" />
<circle cx="70.63" cy="318.40" r="1.80" fill="#9a9a9a" stroke="#222" stroke-width="1.0" />
<circle cx="69.65" cy="320.00" r="1.80" fill="#9a9a9a" stroke="#222" stroke-width="1.0" />
<circle cx="69.40" cy="321.60" r="1.80" fill="#9a9a9a" stroke="#222" stroke-width="1.0" />
<circle cx="71.14" cy="323.20" r="1.80" fill="#9a9a9a" stroke="#222" stroke-width="1.0" />
<circle cx="69.82" cy="324.80" r="1.80" fill="#9a9a9a" stroke="#222" stroke-width="1.0" />
<circle cx="69.83" cy="326.40" r="1.80" fill="#9a9a9a" stroke="#222" stroke-width="1.0" />
<circle cx="71.36" cy="328.00" r="1.80" fill="#9a9a9a" stroke="#222" stroke-width="1.0" />
<circle cx="71.14" cy="329.60" r="1.80" fill="#9a9a9a" stroke="#222" stroke-width="1.0" />
<circle cx="69.98" cy="331.20" r="1.80" fill="#9a9a9a" stroke="#222" stroke-width="1.0" />
<circle cx="71.32" cy="332.80" r="1.80" fill="#9a9a9a" stroke="#222" stroke-width="1.0" />
<circle cx="70.48" cy="334.40" r="1.80" fill="#9a9a9a" stroke="#222" stroke-width="1.0" />
<circle cx="70.76" cy="336.00" r="1.80" fill="#9a9a9a" stroke="#222" stroke-width="1.0" />
<circle cx="69.81" cy="337.60" r="1.80" fill="#9a9a9a" stroke="#222" stroke-width="1.0" />
<circle cx="71.28" cy="339.20" r="1.80" fill="#9a9a9a" stroke="#222" stroke-width="1.0" />
<circle cx="70.78" cy="340.80" r="1.80" fill="#9a9a9a" stroke="#222" stroke-width="1.0" />
<circle cx="71.33" cy="342.40" r="1.80" fill="#9a9a9a" stroke="#222" stroke-width="1.0" />
<circle cx="71.19" cy="344.00" r="1.80" fill="#9a9a9a" stroke="#222" stroke-width="1.0" />
<circle cx="70.00" cy="345.60" r="1.80" fill="#9a9a9a" stroke="#222" stroke-width="1.0" />
<circle cx="70.12" cy="347.20" r="1.80" fill="#9a9a9a" stroke="#222" stroke-width="1.0" />
<circle cx="69.73" cy="348.80" r="1.80" fill="#9a9a9a" stroke="#222" stroke-width="1.0" />
<circle cx="69.69" cy="350.40" r="1.80" fill="#9a9a9a" stroke="#222" stroke-width="1.0" />
<circle cx="69.53" cy="352.00" r="1.80" fill="#9a9a9a" stroke="#222" stroke-width="1.0" />
<circle cx="70.00" cy="353.60" r="1.80" fill="#9a9a9a" stroke="#222" stroke-width="1.0" />
<circle cx="70.61" cy="355.20" r="1.80" fill="#9a9a9a" stroke="#222" stroke-width="1.0" />
<circle cx="69.41" cy="356.80" r="1.80" fill="#9a9a9a" stroke="#222" stroke-width="1.0" />
<circle cx="70.76" cy="358.40" r="1.80" fill="#9a9a9a" stroke="#222" stroke-width="1.0" />
<circle cx="70.08" cy="360.00" r="1.80" fill="#9a9a9a" stroke="#222" stroke-width="1.0" />
<circle cx="70.02" cy="361.60" r="1.80" fill="#9a9a9a" stroke="#222" stroke-width="1.0" />
<circle cx="71.04" cy="363.20" r="1.80" fill="#9a9a9a" stroke="#222" stroke-width="1.0" />
<circle cx="70.36" cy="364.80" r="1.80" fill="#9a9a9a" stroke="#222" stroke-width="1.0" />
<circle cx="70.03" cy="366.40" r="1.80" fill="#9a9a9a" stroke="#222" stroke-width="1.0" />
<circle cx="70.36" cy="368.00" r="1.80" fill="#9a9a9a" stroke="#222" stroke-width="1.0" />
<circle cx="71.17" cy="241.50" r="1.80" fill="#9a9a9a" stroke="#222" stroke-width="1.0" />
<circle cx="69.36" cy="244.50" r="1.80" fill="#9a9a9a" stroke="#222" stroke-width="1.0" />
<circle cx="71.93" cy="246.00" r="1.80" fill="#9a9a9a" stroke="#222" stroke-width="1.0" />
<circle cx="69.26" cy="249.00" r="1.80" fill="#9a9a9a" stroke="#222" stroke-width="1.0" />
<circle cx="71.30" cy="251.50" r="1.80" fill="#9a9a9a" stroke="#222" stroke-width="1.0" />
<circle cx="71.57" cy="253.80" r="1.80" fill="#9a9a9a" stroke="#222" stroke-width="1.0" />
<circle cx="69.25" cy="256.00" r="1.80" fill="#9a9a9a" stroke="#222" stroke-width="1.0" />
<circle cx="71.41" cy="258.50" r="1.80" fill="#9a9a9a" stroke="#222" stroke-width="1.0" />
<circle cx="70.23" cy="261.00" r="1.80" fill="#9a9a9a" stroke="#222" stroke-width="1.0" />
<circle cx="70.82" cy="264.50" r="1.80" fill="#9a9a9a" stroke="#222" stroke-width="1.0" />
<circle cx="68.73" cy="315.00" r="1.80" fill="#9a9a9a" stroke="#222" stroke-width="1.0" />
<circle cx="68.85" cy="320.00" r="1.80" fill="#9a9a9a" stroke="#222" stroke-width="1.0" />
<circle cx="69.28" cy="326.00" r="1.80" fill="#9a9a9a" stroke="#222" stroke-width="1.0" />
<circle cx="71.76" cy="331.00" r="1.80" fill="#9a9a9a" stroke="#222" stroke-width="1.0" />
<circle cx="69.33" cy="337.00" r="1.80" fill="#9a9a9a" stroke="#222" stroke-width="1.0" />
<circle cx="71.12" cy="342.00" r="1.80" fill="#9a9a9a" stroke="#222" stroke-width="1.0" />
<circle cx="71.67" cy="348.00" r="1.80" fill="#9a9a9a" stroke="#222" stroke-width="1.0" />
<circle cx="71.71" cy="353.00" r="1.80" fill="#9a9a9a" stroke="#222" stroke-width="1.0" />
<circle cx="69.80" cy="357.00" r="1.80" fill="#9a9a9a" stroke="#222" stroke-width="1.0" />
<circle cx="69.84" cy="361.00" r="1.80" fill="#9a9a9a" stroke="#222" stroke-width="1.0" />
<circle cx="70.38" cy="364.00" r="1.80" fill="#9a9a9a" stroke="#222" stroke-width="1.0" />
<circle cx="71.18" cy="366.50" r="1.80" fill="#9a9a9a" stroke="#222" stroke-width="1.0" />
<circle cx="62.20" cy="235.60" r="3.70" fill="#9a9a9a" stroke="#222" stroke-width="0.7" />
<circle cx="43.70" cy="246.80" r="3.70" fill="#9a9a9a" stroke="#222" stroke-width="0.7" />
<circle cx="62.30" cy="293.90" r="3.70" fill="#9a9a9a" stroke="#222" stroke-width="0.7" />
<circle cx="67.80" cy="289.10" r="3.20" fill="#9a9a9a" stroke="#222" stroke-width="0.7" />
<circle cx="112.30" cy="301.90" r="3.60" fill="#9a9a9a" stroke="#222" stroke-width="0.7" />
<circle cx="104.00" cy="325.40" r="3.60" fill="#9a9a9a" stroke="#222" stroke-width="0.7" />
<circle cx="65.00" cy="353.50" r="3.40" fill="#9a9a9a" stroke="#222" stroke-width="0.7" />
<circle cx="67.80" cy="346.00" r="3.00" fill="#9a9a9a" stroke="#222" stroke-width="0.7" />
<circle cx="47.50" cy="366.20" r="3.70" fill="#9a9a9a" stroke="#222" stroke-width="0.7" />
<circle cx="64.10" cy="366.20" r="3.70" fill="#9a9a9a" stroke="#222" stroke-width="0.7" />
<circle cx="77.30" cy="366.20" r="3.70" fill="#9a9a9a" stroke="#222" stroke-width="0.7" />
<circle cx="50.80" cy="210.40" r="3.50" fill="#F0DC3C" stroke="#222" stroke-width="0.7" />
<circle cx="54.70" cy="210.40" r="3.50" fill="#F0DC3C" stroke="#222" stroke-width="0.7" />
<circle cx="75.60" cy="210.40" r="3.50" fill="#F0DC3C" stroke="#222" stroke-width="0.7" />
<circle cx="82.90" cy="210.40" r="3.50" fill="#F0DC3C" stroke="#222" stroke-width="0.7" />
<circle cx="116.10" cy="211.70" r="3.50" fill="#F0DC3C" stroke="#222" stroke-width="0.7" />
<circle cx="69.80" cy="224.50" r="1.80" fill="#F0DC3C" stroke="#222" stroke-width="0.7" />
<circle cx="141.20" cy="234.40" r="3.30" fill="#F0DC3C" stroke="#222" stroke-width="0.7" />
<circle cx="141.20" cy="232.60" r="3.30" fill="#F0DC3C" stroke="#222" stroke-width="0.7" />
<circle cx="145.00" cy="339.40" r="3.50" fill="#F0DC3C" stroke="#222" stroke-width="0.7" />
<circle cx="122.90" cy="357.00" r="3.50" fill="#F0DC3C" stroke="#222" stroke-width="0.7" />
<circle cx="136.40" cy="366.40" r="3.50" fill="#F0DC3C" stroke="#222" stroke-width="0.7" />
<circle cx="130.30" cy="224.50" r="3.40" fill="#3A96E6" stroke="#222" stroke-width="0.7" />
<circle cx="135.10" cy="213.60" r="3.40" fill="#3A96E6" stroke="#222" stroke-width="0.7" />
<circle cx="138.30" cy="209.90" r="3.40" fill="#3A96E6" stroke="#222" stroke-width="0.7" />
<circle cx="141.20" cy="209.90" r="3.40" fill="#3A96E6" stroke="#222" stroke-width="0.7" />
<circle cx="144.10" cy="209.90" r="3.40" fill="#3A96E6" stroke="#222" stroke-width="0.7" />
<circle cx="147.00" cy="209.90" r="3.40" fill="#3A96E6" stroke="#222" stroke-width="0.7" />
<circle cx="149.20" cy="209.90" r="3.40" fill="#3A96E6" stroke="#222" stroke-width="0.7" />
<text stroke="#E8403A" stroke-width="0.1" x="122.20" y="206.00" font-size="7.8" text-anchor="start" fill="#E8403A" font-weight="normal" font-style="italic" >COL6A3</text>
<text stroke="#222" stroke-width="0.1" x="153.60" y="210.70" font-size="7.8" text-anchor="start" fill="#222" font-weight="normal" font-style="italic" >ROBO2</text>
<text stroke="#222" stroke-width="0.1" x="155.00" y="218.70" font-size="7.8" text-anchor="start" fill="#222" font-weight="normal" font-style="italic" >NPW</text>
<text stroke="#222" stroke-width="0.1" x="135.40" y="224.50" font-size="7.8" text-anchor="start" fill="#222" font-weight="normal" font-style="italic" >NRGN</text>
<text stroke="#222" stroke-width="0.1" x="144.1" y="257.2" font-size="7.8" fill="#222" font-style="italic">-log<tspan font-size="4.5" dy="1.8">10</tspan><tspan dy="-1.8">pvalue</tspan></text>
<circle cx="155.20" cy="272.20" r="3.00" fill="#333" stroke="#222" stroke-width="0.5" />
<text stroke="#333" stroke-width="0.1" x="161.70" y="275.00" font-size="7" text-anchor="start" fill="#333" font-weight="normal" font-style="normal" >1.3</text>
<circle cx="155.20" cy="284.80" r="3.70" fill="#333" stroke="#222" stroke-width="0.5" />
<text stroke="#333" stroke-width="0.1" x="162.50" y="287.60" font-size="7" text-anchor="start" fill="#333" font-weight="normal" font-style="normal" >3</text>
<text x="211.00" y="203.00" font-size="13" text-anchor="start" fill="#222" font-weight="normal" font-style="normal" >d</text>
<text stroke="#222" stroke-width="0.1" x="266.90" y="201.50" font-size="8" text-anchor="middle" fill="#222" font-weight="normal" font-style="normal" >High Risk score</text>
<text stroke="#222" stroke-width="0.1" x="241.60" y="214.70" font-size="8" fill="#222"><tspan font-style="italic">P</tspan> &lt; 2.22 x 10<tspan font-size="4.8" dy="-3">-16</tspan></text>
<line x1="204.40" y1="213.50" x2="204.40" y2="372.30" stroke="#666" stroke-width="1.1" />
<line x1="202.90" y1="254.40" x2="204.40" y2="254.40" stroke="#666" stroke-width="0.6" />
<text stroke="#555" stroke-width="0.1" x="202.40" y="257.14" font-size="7.6" text-anchor="end" fill="#555" font-weight="normal" font-style="normal" >4</text>
<line x1="202.90" y1="304.90" x2="204.40" y2="304.90" stroke="#666" stroke-width="0.6" />
<text stroke="#555" stroke-width="0.1" x="202.40" y="307.64" font-size="7.6" text-anchor="end" fill="#555" font-weight="normal" font-style="normal" >2</text>
<line x1="202.90" y1="355.40" x2="204.40" y2="355.40" stroke="#666" stroke-width="0.6" />
<text stroke="#555" stroke-width="0.1" x="202.40" y="358.14" font-size="7.6" text-anchor="end" fill="#555" font-weight="normal" font-style="normal" >0</text>
<line x1="204.40" y1="372.30" x2="320.20" y2="372.30" stroke="#333" stroke-width="0.9" />
<line x1="237.10" y1="372.30" x2="237.10" y2="373.80" stroke="#333" stroke-width="0.7" />
<line x1="289.70" y1="372.30" x2="289.70" y2="373.80" stroke="#333" stroke-width="0.7" />
<text stroke="#222" stroke-width="0.1" transform="translate(196.4,321.6) rotate(-90)" font-size="8.4" text-anchor="start" fill="#222"><tspan font-style="italic">COL6A3</tspan> RNA <tspan font-size="6.4">exp</tspan></text>
<text stroke="#222" stroke-width="0.1" x="239.80" y="381.90" font-size="8.2" text-anchor="middle" fill="#222" font-weight="normal" font-style="normal" >Top 25%</text>
<text stroke="#222" stroke-width="0.1" x="289.80" y="381.90" font-size="8.2" text-anchor="middle" fill="#222" font-weight="normal" font-style="normal" >Bottom 25%</text>
<path d="M237.10,220.90 C237.23,223.25 237.65,230.25 237.90,235.00 C238.15,239.75 238.30,244.93 238.60,249.40 C238.90,253.87 239.53,257.65 239.70,261.80 C239.87,265.95 239.52,270.57 239.60,274.30 C239.68,278.03 240.25,280.07 240.20,284.20 C240.15,288.33 239.48,292.48 239.30,299.10 C239.12,305.72 239.03,317.28 239.10,323.90 C239.17,330.52 237.53,335.08 239.70,338.80 C241.87,342.52 248.87,344.13 252.10,346.20 C255.33,348.27 257.67,349.67 259.10,351.20 C260.53,352.73 261.87,353.95 260.70,355.40 C259.53,356.85 255.42,358.33 252.10,359.90 C248.78,361.47 243.30,363.37 240.80,364.80 C238.30,366.23 237.72,367.88 237.10,368.50 L237.10,368.50 C236.48,367.88 235.90,366.23 233.40,364.80 C230.90,363.37 225.42,361.47 222.10,359.90 C218.78,358.33 214.67,356.85 213.50,355.40 C212.33,353.95 213.67,352.73 215.10,351.20 C216.53,349.67 218.87,348.27 222.10,346.20 C225.33,344.13 232.33,342.52 234.50,338.80 C236.67,335.08 235.03,330.52 235.10,323.90 C235.17,317.28 235.08,305.72 234.90,299.10 C234.72,292.48 234.05,288.33 234.00,284.20 C233.95,280.07 234.52,278.03 234.60,274.30 C234.68,270.57 234.33,265.95 234.50,261.80 C234.67,257.65 235.30,253.87 235.60,249.40 C235.90,244.93 236.05,239.75 236.30,235.00 C236.55,230.25 236.97,223.25 237.10,220.90 Z" fill="#8A7BC0" stroke="#1e1e1e" stroke-width="0.75" />
<path d="M289.70,234.60 C289.82,237.17 290.27,239.10 290.40,250.00 C290.53,260.90 290.42,283.97 290.50,300.00 C290.58,316.03 289.70,337.87 290.90,346.20 C292.10,354.53 294.10,348.55 297.70,350.00 C301.30,351.45 312.10,353.47 312.50,354.90 C312.90,356.33 303.57,357.37 300.10,358.60 C296.63,359.83 293.43,361.47 291.70,362.30 C289.97,363.13 290.03,363.38 289.70,363.60 L289.70,363.60 C289.37,363.38 289.43,363.13 287.70,362.30 C285.97,361.47 282.77,359.83 279.30,358.60 C275.83,357.37 266.50,356.33 266.90,354.90 C267.30,353.47 278.10,351.45 281.70,350.00 C285.30,348.55 287.30,354.53 288.50,346.20 C289.70,337.87 288.82,316.03 288.90,300.00 C288.98,283.97 288.87,260.90 289.00,250.00 C289.13,239.10 289.58,237.17 289.70,234.60 Z" fill="#C5D93F" stroke="#1e1e1e" stroke-width="0.75" />
<text stroke="#222" stroke-width="0.1" x="385.30" y="201.50" font-size="8" text-anchor="middle" fill="#222" font-weight="normal" font-style="normal" >Low Risk score</text>
<text stroke="#222" stroke-width="0.1" x="360.00" y="214.70" font-size="8" fill="#222"><tspan font-style="italic">P</tspan> &lt; 2.22 x 10<tspan font-size="4.8" dy="-3">-16</tspan></text>
<line x1="324.40" y1="207.30" x2="324.40" y2="372.30" stroke="#666" stroke-width="1.1" />
<line x1="322.90" y1="251.20" x2="324.40" y2="251.20" stroke="#666" stroke-width="0.6" />
<text stroke="#555" stroke-width="0.1" x="322.40" y="253.94" font-size="7.6" text-anchor="end" fill="#555" font-weight="normal" font-style="normal" >4</text>
<line x1="322.90" y1="302.70" x2="324.40" y2="302.70" stroke="#666" stroke-width="0.6" />
<text stroke="#555" stroke-width="0.1" x="322.40" y="305.44" font-size="7.6" text-anchor="end" fill="#555" font-weight="normal" font-style="normal" >2</text>
<line x1="322.90" y1="354.20" x2="324.40" y2="354.20" stroke="#666" stroke-width="0.6" />
<text stroke="#555" stroke-width="0.1" x="322.40" y="356.94" font-size="7.6" text-anchor="end" fill="#555" font-weight="normal" font-style="normal" >0</text>
<line x1="324.40" y1="372.30" x2="438.00" y2="372.30" stroke="#333" stroke-width="0.9" />
<line x1="358.30" y1="372.30" x2="358.30" y2="373.80" stroke="#333" stroke-width="0.7" />
<line x1="411.20" y1="372.30" x2="411.20" y2="373.80" stroke="#333" stroke-width="0.7" />
<text stroke="#222" stroke-width="0.1" x="360.00" y="381.90" font-size="8.2" text-anchor="middle" fill="#222" font-weight="normal" font-style="normal" >Top 25%</text>
<text stroke="#222" stroke-width="0.1" x="411.20" y="381.90" font-size="8.2" text-anchor="middle" fill="#222" font-weight="normal" font-style="normal" >Bottom 25%</text>
<path d="M358.30,243.20 C358.42,246.00 358.87,246.55 359.00,260.00 C359.13,273.45 358.95,312.02 359.10,323.90 C359.25,335.78 359.90,328.82 359.90,331.30 C359.90,333.78 359.03,336.52 359.10,338.80 C359.17,341.08 358.98,343.35 360.30,345.00 C361.62,346.65 363.40,347.25 367.00,348.70 C370.60,350.15 381.52,352.47 381.90,353.70 C382.28,354.93 373.07,355.07 369.30,356.10 C365.53,357.13 361.13,359.08 359.30,359.90 C357.47,360.72 358.47,360.82 358.30,361.00 L358.30,361.00 C358.13,360.82 359.13,360.72 357.30,359.90 C355.47,359.08 351.07,357.13 347.30,356.10 C343.53,355.07 334.32,354.93 334.70,353.70 C335.08,352.47 346.00,350.15 349.60,348.70 C353.20,347.25 354.98,346.65 356.30,345.00 C357.62,343.35 357.43,341.08 357.50,338.80 C357.57,336.52 356.70,333.78 356.70,331.30 C356.70,328.82 357.35,335.78 357.50,323.90 C357.65,312.02 357.47,273.45 357.60,260.00 C357.73,246.55 358.18,246.00 358.30,243.20 Z" fill="#8A7BC0" stroke="#1e1e1e" stroke-width="0.75" />
<path d="M411.20,213.50 C411.37,218.25 411.78,235.18 412.20,242.00 C412.62,248.82 413.12,248.20 413.70,254.40 C414.28,260.60 415.70,271.75 415.70,279.20 C415.70,286.65 414.12,291.65 413.70,299.10 C413.28,306.55 413.12,317.28 413.20,323.90 C413.28,330.52 412.55,335.50 414.20,338.80 C415.85,342.10 420.17,342.05 423.10,343.70 C426.03,345.35 429.85,347.03 431.80,348.70 C433.75,350.37 435.42,352.05 434.80,353.70 C434.18,355.35 431.70,356.75 428.10,358.60 C424.50,360.45 416.02,363.23 413.20,364.80 C410.38,366.37 411.53,367.47 411.20,368.00 L411.20,368.00 C410.87,367.47 412.02,366.37 409.20,364.80 C406.38,363.23 397.90,360.45 394.30,358.60 C390.70,356.75 388.22,355.35 387.60,353.70 C386.98,352.05 388.65,350.37 390.60,348.70 C392.55,347.03 396.37,345.35 399.30,343.70 C402.23,342.05 406.55,342.10 408.20,338.80 C409.85,335.50 409.12,330.52 409.20,323.90 C409.28,317.28 409.12,306.55 408.70,299.10 C408.28,291.65 406.70,286.65 406.70,279.20 C406.70,271.75 408.12,260.60 408.70,254.40 C409.28,248.20 409.78,248.82 410.20,242.00 C410.62,235.18 411.03,218.25 411.20,213.50 Z" fill="#C5D93F" stroke="#1e1e1e" stroke-width="0.75" />
<text x="453.60" y="201.50" font-size="13" text-anchor="start" fill="#222" font-weight="normal" font-style="normal" >e</text>
<line x1="454.90" y1="224.60" x2="454.90" y2="369.30" stroke="#333" stroke-width="1.0" />
<line x1="452.90" y1="233.60" x2="454.90" y2="233.60" stroke="#333" stroke-width="0.6" />
<text stroke="#222" stroke-width="0.1" x="452.00" y="236.30" font-size="7.5" text-anchor="end" fill="#222" font-weight="normal" font-style="normal" >5</text>
<line x1="452.90" y1="256.52" x2="454.90" y2="256.52" stroke="#333" stroke-width="0.6" />
<text stroke="#222" stroke-width="0.1" x="452.00" y="259.22" font-size="7.5" text-anchor="end" fill="#222" font-weight="normal" font-style="normal" >4</text>
<line x1="452.90" y1="279.44" x2="454.90" y2="279.44" stroke="#333" stroke-width="0.6" />
<text stroke="#222" stroke-width="0.1" x="452.00" y="282.14" font-size="7.5" text-anchor="end" fill="#222" font-weight="normal" font-style="normal" >3</text>
<line x1="452.90" y1="302.36" x2="454.90" y2="302.36" stroke="#333" stroke-width="0.6" />
<text stroke="#222" stroke-width="0.1" x="452.00" y="305.06" font-size="7.5" text-anchor="end" fill="#222" font-weight="normal" font-style="normal" >2</text>
<line x1="452.90" y1="325.28" x2="454.90" y2="325.28" stroke="#333" stroke-width="0.6" />
<text stroke="#222" stroke-width="0.1" x="452.00" y="327.98" font-size="7.5" text-anchor="end" fill="#222" font-weight="normal" font-style="normal" >1</text>
<line x1="452.90" y1="348.20" x2="454.90" y2="348.20" stroke="#333" stroke-width="0.6" />
<text stroke="#222" stroke-width="0.1" x="452.00" y="350.90" font-size="7.5" text-anchor="end" fill="#222" font-weight="normal" font-style="normal" >0</text>
<line x1="454.90" y1="369.40" x2="685.00" y2="369.40" stroke="#222" stroke-width="1.0" />
<line x1="473.70" y1="369.40" x2="473.70" y2="371.60" stroke="#222" stroke-width="0.7" />
<line x1="504.50" y1="369.40" x2="504.50" y2="371.60" stroke="#222" stroke-width="0.7" />
<line x1="535.30" y1="369.40" x2="535.30" y2="371.60" stroke="#222" stroke-width="0.7" />
<line x1="554.60" y1="369.40" x2="554.60" y2="371.60" stroke="#222" stroke-width="0.7" />
<line x1="573.30" y1="369.40" x2="573.30" y2="371.60" stroke="#222" stroke-width="0.7" />
<line x1="592.30" y1="369.40" x2="592.30" y2="371.60" stroke="#222" stroke-width="0.7" />
<line x1="611.00" y1="369.40" x2="611.00" y2="371.60" stroke="#222" stroke-width="0.7" />
<line x1="629.90" y1="369.40" x2="629.90" y2="371.60" stroke="#222" stroke-width="0.7" />
<line x1="648.90" y1="369.40" x2="648.90" y2="371.60" stroke="#222" stroke-width="0.7" />
<line x1="667.70" y1="369.40" x2="667.70" y2="371.60" stroke="#222" stroke-width="0.7" />
<text stroke="#222" stroke-width="0.1" transform="translate(443.2,284.6) rotate(-90)" font-size="8.1" text-anchor="middle" fill="#222">COL6A3 RNA exp</text>
<text stroke="#222" stroke-width="0.1" transform="translate(474.30,381.40) rotate(-45)" font-size="8.5" text-anchor="end" fill="#222">Primary</text>
<text stroke="#222" stroke-width="0.1" transform="translate(507.30,380.90) rotate(-45)" font-size="8.5" text-anchor="end" fill="#222">Recurrent</text>
<text stroke="#222" stroke-width="0.1" transform="translate(540.90,380.70) rotate(-45)" font-size="8.5" text-anchor="end" fill="#222">MG1 (P)</text>
<text stroke="#222" stroke-width="0.1" transform="translate(560.20,380.70) rotate(-45)" font-size="8.5" text-anchor="end" fill="#222">MG1 (R)</text>
<text stroke="#222" stroke-width="0.1" transform="translate(578.90,380.70) rotate(-45)" font-size="8.5" text-anchor="end" fill="#222">MG2 (P)</text>
<text stroke="#222" stroke-width="0.1" transform="translate(597.90,380.70) rotate(-45)" font-size="8.5" text-anchor="end" fill="#222">MG2 (R)</text>
<text stroke="#222" stroke-width="0.1" transform="translate(616.60,380.70) rotate(-45)" font-size="8.5" text-anchor="end" fill="#222">MG3 (P)</text>
<text stroke="#222" stroke-width="0.1" transform="translate(635.50,380.70) rotate(-45)" font-size="8.5" text-anchor="end" fill="#222">MG3 (R)</text>
<text stroke="#222" stroke-width="0.1" transform="translate(654.50,380.70) rotate(-45)" font-size="8.5" text-anchor="end" fill="#222">MG4 (P)</text>
<text stroke="#222" stroke-width="0.1" transform="translate(673.30,380.70) rotate(-45)" font-size="8.5" text-anchor="end" fill="#222">MG4 (R)</text>
<path d="M473.40,222.7 L473.40,218.6 L504.50,218.6 L504.50,222.7" fill="none" stroke="#222" stroke-width="0.8"/>
<text stroke="#222" stroke-width="0.1" x="488.95" y="213.60" font-size="6" text-anchor="middle" fill="#222" font-weight="normal" font-style="normal" >***</text>
<path d="M534.20,222.7 L534.20,218.6 L554.60,218.6 L554.60,222.7" fill="none" stroke="#222" stroke-width="0.8"/>
<text stroke="#222" stroke-width="0.1" x="544.40" y="213.60" font-size="6" text-anchor="middle" fill="#222" font-weight="normal" font-style="normal" >***</text>
<path d="M572.40,222.7 L572.40,218.6 L592.50,218.6 L592.50,222.7" fill="none" stroke="#222" stroke-width="0.8"/>
<text stroke="#222" stroke-width="0.1" x="582.45" y="213.60" font-size="6" text-anchor="middle" fill="#222" font-weight="normal" font-style="normal" >***</text>
<path d="M609.60,222.7 L609.60,218.6 L629.90,218.6 L629.90,222.7" fill="none" stroke="#222" stroke-width="0.8"/>
<text stroke="#222" stroke-width="0.1" x="619.75" y="213.60" font-size="6" text-anchor="middle" fill="#222" font-weight="normal" font-style="normal" >***</text>
<path d="M648.90,222.7 L648.90,218.6 L668.90,218.6 L668.90,222.7" fill="none" stroke="#222" stroke-width="0.8"/>
<text stroke="#222" stroke-width="0.1" x="658.90" y="213.60" font-size="6" text-anchor="middle" fill="#222" font-weight="normal" font-style="normal" >***</text>
<line x1="473.70" y1="250.60" x2="473.70" y2="347.50" stroke="#333" stroke-width="0.7" />
<ellipse cx="473.70" cy="254.60" rx="1.55" ry="1.60" fill="#333"/>
<rect x="472.15" y="261.00" width="3.10" height="76.40" fill="#333" stroke="none" stroke-width="0.6" rx="1.2"/>
<path d="M473.70,344.60 C473.97,344.80 474.63,345.42 475.30,345.80 C475.97,346.18 476.63,346.60 477.70,346.90 C478.77,347.20 479.65,347.40 481.70,347.60 C483.75,347.80 490.00,347.92 490.00,348.10 C490.00,348.28 483.75,348.45 481.70,348.70 C479.65,348.95 478.77,349.23 477.70,349.60 C476.63,349.97 475.97,350.40 475.30,350.90 C474.63,351.40 473.97,352.32 473.70,352.60 L473.70,352.60 C473.43,352.32 472.77,351.40 472.10,350.90 C471.43,350.40 470.77,349.97 469.70,349.60 C468.63,349.23 467.75,348.95 465.70,348.70 C463.65,348.45 457.40,348.28 457.40,348.10 C457.40,347.92 463.65,347.80 465.70,347.60 C467.75,347.40 468.63,347.20 469.70,346.90 C470.77,346.60 471.43,346.18 472.10,345.80 C472.77,345.42 473.43,344.80 473.70,344.60 Z" fill="#FCD98A" stroke="#1e1e1e" stroke-width="0.65" />
<line x1="472.20" y1="348.10" x2="475.20" y2="348.10" stroke="#333" stroke-width="0.6" />
<line x1="504.50" y1="227.30" x2="504.50" y2="347.50" stroke="#333" stroke-width="0.7" />
<ellipse cx="504.50" cy="238.50" rx="1.50" ry="1.80" fill="#333"/>
<ellipse cx="504.50" cy="241.50" rx="1.50" ry="1.80" fill="#333"/>
<rect x="503.00" y="245.00" width="3.00" height="13.00" fill="#333" stroke="none" stroke-width="0.6" rx="1.2"/>
<line x1="504.50" y1="258.00" x2="504.50" y2="312.00" stroke="#333" stroke-width="1.6" />
<path d="M504.50,341.50 C505.08,341.92 507.07,342.82 508.00,344.00 C508.93,345.18 510.02,347.18 510.10,348.60 C510.18,350.02 509.18,351.27 508.50,352.50 C507.82,353.73 506.67,354.83 506.00,356.00 C505.33,357.17 504.75,358.92 504.50,359.50 L504.50,359.50 C504.25,358.92 503.67,357.17 503.00,356.00 C502.33,354.83 501.18,353.73 500.50,352.50 C499.82,351.27 498.82,350.02 498.90,348.60 C498.98,347.18 500.07,345.18 501.00,344.00 C501.93,342.82 503.92,341.92 504.50,341.50 Z" fill="#8CC08E" stroke="#1e1e1e" stroke-width="0.75" />
<rect x="502.70" y="311.70" width="3.70" height="36.90" fill="#0A6E1E" stroke="#222" stroke-width="0.5" />
<line x1="535.30" y1="260.20" x2="535.30" y2="347.50" stroke="#333" stroke-width="0.7" />
<ellipse cx="535.30" cy="264.50" rx="1.55" ry="1.70" fill="#333"/>
<ellipse cx="535.30" cy="268.00" rx="1.55" ry="1.70" fill="#333"/>
<ellipse cx="535.30" cy="271.50" rx="1.55" ry="1.70" fill="#333"/>
<ellipse cx="535.30" cy="275.00" rx="1.55" ry="1.70" fill="#333"/>
<rect x="533.75" y="278.70" width="3.10" height="57.90" fill="#333" stroke="none" stroke-width="0.6" rx="1.2"/>
<path d="M535.30,344.60 C535.57,344.83 536.23,345.55 536.90,346.00 C537.57,346.45 538.32,346.92 539.30,347.30 C540.28,347.68 541.53,348.00 542.80,348.30 C544.07,348.60 546.90,348.82 546.90,349.10 C546.90,349.38 544.07,349.65 542.80,350.00 C541.53,350.35 540.28,350.77 539.30,351.20 C538.32,351.63 537.57,352.10 536.90,352.60 C536.23,353.10 535.57,353.93 535.30,354.20 L535.30,354.20 C535.03,353.93 534.37,353.10 533.70,352.60 C533.03,352.10 532.28,351.63 531.30,351.20 C530.32,350.77 529.07,350.35 527.80,350.00 C526.53,349.65 523.70,349.38 523.70,349.10 C523.70,348.82 526.53,348.60 527.80,348.30 C529.07,348.00 530.32,347.68 531.30,347.30 C532.28,346.92 533.03,346.45 533.70,346.00 C534.37,345.55 535.03,344.83 535.30,344.60 Z" fill="#F4A0A2" stroke="#1e1e1e" stroke-width="0.65" />
<line x1="534.00" y1="349.10" x2="536.60" y2="349.10" stroke="#333" stroke-width="0.6" />
<line x1="554.60" y1="232.90" x2="554.60" y2="347.50" stroke="#333" stroke-width="0.7" />
<ellipse cx="554.60" cy="247.40" rx="1.55" ry="1.70" fill="#333"/>
<rect x="553.05" y="249.80" width="3.10" height="85.20" fill="#333" stroke="none" stroke-width="0.6" rx="1.2"/>
<path d="M554.60,337.40 C555.02,338.17 556.40,340.13 557.10,342.00 C557.80,343.87 558.80,346.43 558.80,348.60 C558.80,350.77 557.63,353.35 557.10,355.00 C556.57,356.65 556.02,357.28 555.60,358.50 C555.18,359.72 554.77,361.67 554.60,362.30 L554.60,362.30 C554.43,361.67 554.02,359.72 553.60,358.50 C553.18,357.28 552.63,356.65 552.10,355.00 C551.57,353.35 550.40,350.77 550.40,348.60 C550.40,346.43 551.40,343.87 552.10,342.00 C552.80,340.13 554.18,338.17 554.60,337.40 Z" fill="#F4A0A2" stroke="#1e1e1e" stroke-width="0.75" />
<line x1="553.40" y1="348.60" x2="555.80" y2="348.60" stroke="#333" stroke-width="0.6" />
<line x1="573.30" y1="249.30" x2="573.30" y2="347.50" stroke="#333" stroke-width="0.7" />
<ellipse cx="573.30" cy="255.70" rx="1.55" ry="1.70" fill="#333"/>
<ellipse cx="573.30" cy="263.50" rx="1.55" ry="1.60" fill="#333"/>
<ellipse cx="573.30" cy="267.00" rx="1.55" ry="1.60" fill="#333"/>
<ellipse cx="573.30" cy="270.50" rx="1.55" ry="1.60" fill="#333"/>
<rect x="571.75" y="274.80" width="3.10" height="63.60" fill="#333" stroke="none" stroke-width="0.6" rx="1.2"/>
<path d="M573.30,343.80 C573.57,344.07 574.23,344.90 574.90,345.40 C575.57,345.90 576.43,346.38 577.30,346.80 C578.17,347.22 579.17,347.57 580.10,347.90 C581.03,348.23 582.90,348.48 582.90,348.80 C582.90,349.12 581.03,349.42 580.10,349.80 C579.17,350.18 578.17,350.60 577.30,351.10 C576.43,351.60 575.57,352.18 574.90,352.80 C574.23,353.42 573.57,354.47 573.30,354.80 L573.30,354.80 C573.03,354.47 572.37,353.42 571.70,352.80 C571.03,352.18 570.17,351.60 569.30,351.10 C568.43,350.60 567.43,350.18 566.50,349.80 C565.57,349.42 563.70,349.12 563.70,348.80 C563.70,348.48 565.57,348.23 566.50,347.90 C567.43,347.57 568.43,347.22 569.30,346.80 C570.17,346.38 571.03,345.90 571.70,345.40 C572.37,344.90 573.03,344.07 573.30,343.80 Z" fill="#9CC5EA" stroke="#1e1e1e" stroke-width="0.65" />
<line x1="572.00" y1="348.80" x2="574.60" y2="348.80" stroke="#333" stroke-width="0.6" />
<line x1="592.30" y1="228.30" x2="592.30" y2="347.50" stroke="#333" stroke-width="0.7" />
<ellipse cx="592.30" cy="239.50" rx="1.50" ry="1.80" fill="#333"/>
<ellipse cx="592.30" cy="242.50" rx="1.50" ry="1.80" fill="#333"/>
<rect x="590.80" y="245.60" width="3.00" height="21.00" fill="#333" stroke="none" stroke-width="0.6" rx="1.2"/>
<line x1="592.30" y1="266.60" x2="592.30" y2="316.00" stroke="#333" stroke-width="1.6" />
<path d="M592.30,344.70 C592.80,345.00 594.58,345.82 595.30,346.50 C596.02,347.18 596.60,347.80 596.60,348.80 C596.60,349.80 595.82,351.22 595.30,352.50 C594.78,353.78 594.00,355.20 593.50,356.50 C593.00,357.80 592.50,359.67 592.30,360.30 L592.30,360.30 C592.10,359.67 591.60,357.80 591.10,356.50 C590.60,355.20 589.82,353.78 589.30,352.50 C588.78,351.22 588.00,349.80 588.00,348.80 C588.00,347.80 588.58,347.18 589.30,346.50 C590.02,345.82 591.80,345.00 592.30,344.70 Z" fill="#9CC5EA" stroke="#1e1e1e" stroke-width="0.75" />
<rect x="590.70" y="315.50" width="3.20" height="33.30" fill="#2771BF" stroke="#222" stroke-width="0.5" />
<line x1="611.20" y1="251.10" x2="611.20" y2="347.50" stroke="#333" stroke-width="0.7" />
<ellipse cx="611.20" cy="255.70" rx="1.55" ry="1.70" fill="#333"/>
<ellipse cx="611.20" cy="267.50" rx="1.55" ry="1.90" fill="#333"/>
<rect x="609.65" y="275.70" width="3.10" height="62.10" fill="#333" stroke="none" stroke-width="0.6" rx="1.2"/>
<path d="M611.20,344.70 C611.47,344.93 612.13,345.67 612.80,346.10 C613.47,346.53 614.13,346.90 615.20,347.30 C616.27,347.70 617.87,348.17 619.20,348.50 C620.53,348.83 623.20,349.03 623.20,349.30 C623.20,349.57 620.53,349.78 619.20,350.10 C617.87,350.42 616.27,350.82 615.20,351.20 C614.13,351.58 613.47,351.95 612.80,352.40 C612.13,352.85 611.47,353.65 611.20,353.90 L611.20,353.90 C610.93,353.65 610.27,352.85 609.60,352.40 C608.93,351.95 608.27,351.58 607.20,351.20 C606.13,350.82 604.53,350.42 603.20,350.10 C601.87,349.78 599.20,349.57 599.20,349.30 C599.20,349.03 601.87,348.83 603.20,348.50 C604.53,348.17 606.13,347.70 607.20,347.30 C608.27,346.90 608.93,346.53 609.60,346.10 C610.27,345.67 610.93,344.93 611.20,344.70 Z" fill="#9ED89A" stroke="#1e1e1e" stroke-width="0.65" />
<line x1="609.90" y1="349.30" x2="612.50" y2="349.30" stroke="#333" stroke-width="0.6" />
<line x1="629.90" y1="225.50" x2="629.90" y2="306.00" stroke="#333" stroke-width="0.9" />
<circle cx="629.90" cy="238.70" r="1.70" fill="#333" stroke="none" stroke-width="0.6" />
<path d="M629.90,343.80 C630.37,344.17 632.03,345.17 632.70,346.00 C633.37,346.83 633.93,347.63 633.90,348.80 C633.87,349.97 633.00,351.55 632.50,353.00 C632.00,354.45 631.33,355.98 630.90,357.50 C630.47,359.02 630.07,361.33 629.90,362.10 L629.90,362.10 C629.73,361.33 629.33,359.02 628.90,357.50 C628.47,355.98 627.80,354.45 627.30,353.00 C626.80,351.55 625.93,349.97 625.90,348.80 C625.87,347.63 626.43,346.83 627.10,346.00 C627.77,345.17 629.43,344.17 629.90,343.80 Z" fill="#9ED89A" stroke="#1e1e1e" stroke-width="0.75" />
<rect x="628.40" y="306.10" width="2.90" height="42.70" fill="#2DB34A" stroke="#222" stroke-width="0.5" />
<line x1="648.90" y1="273.90" x2="648.90" y2="347.50" stroke="#333" stroke-width="0.7" />
<ellipse cx="648.90" cy="283.00" rx="1.55" ry="1.80" fill="#333"/>
<ellipse cx="648.90" cy="290.50" rx="1.55" ry="1.60" fill="#333"/>
<ellipse cx="648.90" cy="294.00" rx="1.55" ry="1.60" fill="#333"/>
<ellipse cx="648.90" cy="297.50" rx="1.55" ry="1.60" fill="#333"/>
<rect x="647.35" y="300.00" width="3.10" height="35.60" fill="#333" stroke="none" stroke-width="0.6" rx="1.2"/>
<path d="M648.90,342.90 C649.57,343.33 651.73,344.52 652.90,345.50 C654.07,346.48 655.90,347.63 655.90,348.80 C655.90,349.97 654.07,351.10 652.90,352.50 C651.73,353.90 649.57,356.42 648.90,357.20 L648.90,357.20 C648.23,356.42 646.07,353.90 644.90,352.50 C643.73,351.10 641.90,349.97 641.90,348.80 C641.90,347.63 643.73,346.48 644.90,345.50 C646.07,344.52 648.23,343.33 648.90,342.90 Z" fill="#FDCB8F" stroke="#1e1e1e" stroke-width="0.75" />
<line x1="647.60" y1="348.80" x2="650.20" y2="348.80" stroke="#333" stroke-width="0.6" />
<line x1="667.70" y1="229.20" x2="667.70" y2="302.40" stroke="#333" stroke-width="0.9" />
<path d="M667.70,346.00 C668.20,346.47 670.27,347.80 670.70,348.80 C671.13,349.80 670.55,350.80 670.30,352.00 C670.05,353.20 669.50,354.67 669.20,356.00 C668.90,357.33 668.75,358.07 668.50,360.00 C668.25,361.93 667.83,366.33 667.70,367.60 L667.70,367.60 C667.57,366.33 667.15,361.93 666.90,360.00 C666.65,358.07 666.50,357.33 666.20,356.00 C665.90,354.67 665.35,353.20 665.10,352.00 C664.85,350.80 664.27,349.80 664.70,348.80 C665.13,347.80 667.20,346.47 667.70,346.00 Z" fill="#FDCB8F" stroke="#1e1e1e" stroke-width="0.75" />
<rect x="666.40" y="302.40" width="2.70" height="46.40" fill="#F39325" stroke="#222" stroke-width="0.5" />
<text x="11.70" y="428.30" font-size="13" text-anchor="start" fill="#222" font-weight="bold" font-style="normal" >f</text>
<line x1="35.60" y1="426.30" x2="35.60" y2="587.30" stroke="#222" stroke-width="0.9" />
<line x1="35.60" y1="587.30" x2="186.90" y2="587.30" stroke="#222" stroke-width="0.9" />
<line x1="77.40" y1="587.30" x2="77.40" y2="588.80" stroke="#444" stroke-width="0.6" />
<line x1="145.90" y1="587.30" x2="145.90" y2="588.80" stroke="#444" stroke-width="0.6" />
<text stroke="#666" stroke-width="0.1" x="33.90" y="468.10" font-size="6.4" text-anchor="end" fill="#666" font-weight="normal" font-style="normal" >10</text>
<text stroke="#666" stroke-width="0.1" x="33.90" y="518.10" font-size="6.4" text-anchor="end" fill="#666" font-weight="normal" font-style="normal" >5</text>
<text stroke="#666" stroke-width="0.1" x="33.90" y="568.10" font-size="6.4" text-anchor="end" fill="#666" font-weight="normal" font-style="normal" >0</text>
<text stroke="#222" stroke-width="0.1" x="92.80" y="437.40" font-size="8" fill="#222"><tspan font-style="italic">P</tspan> = 0.0054<tspan font-size="4.8" dy="-3"></tspan></text>
<text stroke="#222" stroke-width="0.1" transform="translate(22.9,509.5) rotate(-90)" font-size="7.95" text-anchor="middle" fill="#222"><tspan font-style="italic">COL6A3</tspan> gene expression</text>
<text stroke="#555" stroke-width="0.1" x="74.70" y="598.90" font-size="8.2" text-anchor="middle" fill="#555" font-weight="normal" font-style="normal" >Primary</text>
<text stroke="#555" stroke-width="0.1" x="145.60" y="598.90" font-size="8.0" text-anchor="middle" fill="#555" font-weight="normal" font-style="normal" >Recurrent</text>
<path d="M77.00,486.10 C77.10,486.75 77.45,488.72 77.60,490.00 C77.75,491.28 77.77,492.63 77.90,493.80 C78.03,494.97 78.30,495.97 78.40,497.00 C78.50,498.03 78.32,498.90 78.50,500.00 C78.68,501.10 78.95,502.27 79.50,503.60 C80.05,504.93 80.80,506.90 81.80,508.00 C82.80,509.10 84.03,509.47 85.50,510.20 C86.97,510.93 88.97,511.58 90.60,512.40 C92.23,513.22 93.85,514.18 95.30,515.10 C96.75,516.02 97.97,516.90 99.30,517.90 C100.63,518.90 102.13,520.02 103.30,521.10 C104.47,522.18 105.58,523.38 106.30,524.40 C107.02,525.42 107.30,526.28 107.60,527.20 C107.90,528.12 108.05,529.00 108.10,529.90 C108.15,530.80 108.08,531.68 107.90,532.60 C107.72,533.52 107.52,534.57 107.00,535.40 C106.48,536.23 105.72,536.87 104.80,537.60 C103.88,538.33 102.80,538.90 101.50,539.80 C100.20,540.70 98.45,541.92 97.00,543.00 C95.55,544.08 94.08,545.20 92.80,546.30 C91.52,547.40 90.40,548.50 89.30,549.60 C88.20,550.70 87.22,551.80 86.20,552.90 C85.18,554.00 84.12,555.10 83.20,556.20 C82.28,557.30 81.48,558.40 80.70,559.50 C79.92,560.60 79.12,561.35 78.50,562.80 C77.88,564.25 77.25,567.30 77.00,568.20 L77.00,568.20 C76.75,567.30 76.12,564.25 75.50,562.80 C74.88,561.35 74.08,560.60 73.30,559.50 C72.52,558.40 71.72,557.30 70.80,556.20 C69.88,555.10 68.82,554.00 67.80,552.90 C66.78,551.80 65.80,550.70 64.70,549.60 C63.60,548.50 62.48,547.40 61.20,546.30 C59.92,545.20 58.45,544.08 57.00,543.00 C55.55,541.92 53.80,540.70 52.50,539.80 C51.20,538.90 50.12,538.33 49.20,537.60 C48.28,536.87 47.52,536.23 47.00,535.40 C46.48,534.57 46.28,533.52 46.10,532.60 C45.92,531.68 45.85,530.80 45.90,529.90 C45.95,529.00 46.10,528.12 46.40,527.20 C46.70,526.28 46.98,525.42 47.70,524.40 C48.42,523.38 49.53,522.18 50.70,521.10 C51.87,520.02 53.37,518.90 54.70,517.90 C56.03,516.90 57.25,516.02 58.70,515.10 C60.15,514.18 61.77,513.22 63.40,512.40 C65.03,511.58 67.03,510.93 68.50,510.20 C69.97,509.47 71.20,509.10 72.20,508.00 C73.20,506.90 73.95,504.93 74.50,503.60 C75.05,502.27 75.32,501.10 75.50,500.00 C75.68,498.90 75.50,498.03 75.60,497.00 C75.70,495.97 75.97,494.97 76.10,493.80 C76.23,492.63 76.25,491.28 76.40,490.00 C76.55,488.72 76.90,486.75 77.00,486.10 Z" fill="#FCD98A" stroke="#1a1a1a" stroke-width="0.9" />
<line x1="77.00" y1="504.70" x2="77.00" y2="556.20" stroke="#444" stroke-width="0.8" />
<rect x="71.60" y="525.10" width="10.80" height="14.70" fill="#F8B821" stroke="#333" stroke-width="0.6" />
<line x1="71.60" y1="532.10" x2="82.40" y2="532.10" stroke="#333" stroke-width="0.8" />
<path d="M146.00,456.60 C146.13,457.50 146.55,460.18 146.80,462.00 C147.05,463.82 147.22,465.83 147.50,467.50 C147.78,469.17 148.13,470.53 148.50,472.00 C148.87,473.47 149.18,474.87 149.70,476.30 C150.22,477.73 150.87,479.15 151.60,480.60 C152.33,482.05 153.00,483.53 154.10,485.00 C155.20,486.47 156.73,487.93 158.20,489.40 C159.67,490.87 161.43,492.52 162.90,493.80 C164.37,495.08 165.73,496.00 167.00,497.10 C168.27,498.20 169.43,499.32 170.50,500.40 C171.57,501.48 172.55,502.52 173.40,503.60 C174.25,504.68 175.05,505.80 175.60,506.90 C176.15,508.00 176.45,509.10 176.70,510.20 C176.95,511.30 177.12,512.22 177.10,513.50 C177.08,514.78 176.85,516.43 176.60,517.90 C176.35,519.37 175.90,520.85 175.60,522.30 C175.30,523.75 175.10,525.15 174.80,526.60 C174.50,528.05 174.28,529.72 173.80,531.00 C173.32,532.28 172.63,533.20 171.90,534.30 C171.17,535.40 170.55,536.32 169.40,537.60 C168.25,538.88 166.45,540.55 165.00,542.00 C163.55,543.45 162.00,544.85 160.70,546.30 C159.40,547.75 158.30,549.23 157.20,550.70 C156.10,552.17 155.03,553.63 154.10,555.10 C153.17,556.57 152.33,558.03 151.60,559.50 C150.87,560.97 150.23,562.53 149.70,563.90 C149.17,565.27 148.77,566.43 148.40,567.70 C148.03,568.97 147.77,570.12 147.50,571.50 C147.23,572.88 147.05,574.53 146.80,576.00 C146.55,577.47 146.13,579.58 146.00,580.30 L146.00,580.30 C145.87,579.58 145.45,577.47 145.20,576.00 C144.95,574.53 144.77,572.88 144.50,571.50 C144.23,570.12 143.97,568.97 143.60,567.70 C143.23,566.43 142.83,565.27 142.30,563.90 C141.77,562.53 141.13,560.97 140.40,559.50 C139.67,558.03 138.83,556.57 137.90,555.10 C136.97,553.63 135.90,552.17 134.80,550.70 C133.70,549.23 132.60,547.75 131.30,546.30 C130.00,544.85 128.45,543.45 127.00,542.00 C125.55,540.55 123.75,538.88 122.60,537.60 C121.45,536.32 120.83,535.40 120.10,534.30 C119.37,533.20 118.68,532.28 118.20,531.00 C117.72,529.72 117.50,528.05 117.20,526.60 C116.90,525.15 116.70,523.75 116.40,522.30 C116.10,520.85 115.65,519.37 115.40,517.90 C115.15,516.43 114.92,514.78 114.90,513.50 C114.88,512.22 115.05,511.30 115.30,510.20 C115.55,509.10 115.85,508.00 116.40,506.90 C116.95,505.80 117.75,504.68 118.60,503.60 C119.45,502.52 120.43,501.48 121.50,500.40 C122.57,499.32 123.73,498.20 125.00,497.10 C126.27,496.00 127.63,495.08 129.10,493.80 C130.57,492.52 132.33,490.87 133.80,489.40 C135.27,487.93 136.80,486.47 137.90,485.00 C139.00,483.53 139.67,482.05 140.40,480.60 C141.13,479.15 141.78,477.73 142.30,476.30 C142.82,474.87 143.13,473.47 143.50,472.00 C143.87,470.53 144.22,469.17 144.50,467.50 C144.78,465.83 144.95,463.82 145.20,462.00 C145.45,460.18 145.87,457.50 146.00,456.60 Z" fill="#80B88A" stroke="#1a1a1a" stroke-width="0.9" />
<line x1="146.00" y1="483.90" x2="146.00" y2="552.90" stroke="#333" stroke-width="0.8" />
<rect x="140.50" y="510.20" width="11.00" height="23.70" fill="#0B6B1F" stroke="#222" stroke-width="0.6" />
<line x1="140.50" y1="521.20" x2="151.50" y2="521.20" stroke="#222" stroke-width="0.8" />
<text x="215.90" y="428.90" font-size="13" text-anchor="start" fill="#222" font-weight="bold" font-style="normal" >h</text>
<text stroke="#222" stroke-width="0.1" x="227.70" y="444.10" font-size="7.2" text-anchor="start" fill="#222" font-weight="normal" font-style="normal" >siRNA</text>
<rect x="255.10" y="437.30" width="9.10" height="8.80" fill="#0D3B80" stroke="#222" stroke-width="0.6" />
<text stroke="#222" stroke-width="0.1" x="266.70" y="444.10" font-size="7.2" text-anchor="start" fill="#222" font-weight="normal" font-style="normal" >Scrambled</text>
<rect x="304.90" y="437.30" width="9.10" height="8.80" fill="#E0661B" stroke="#222" stroke-width="0.6" />
<text stroke="#222" stroke-width="0.1" x="315.70" y="444.10" font-size="7.2" text-anchor="start" fill="#222" font-weight="normal" font-style="normal" >siCOL6A3</text>
<line x1="236.30" y1="456.90" x2="236.30" y2="585.00" stroke="#444" stroke-width="0.8" />
<line x1="236.30" y1="585.00" x2="347.00" y2="585.00" stroke="#444" stroke-width="0.8" />
<line x1="234.50" y1="458.95" x2="236.30" y2="458.95" stroke="#444" stroke-width="0.6" />
<text stroke="#333" stroke-width="0.1" x="233.80" y="461.15" font-size="6.2" text-anchor="end" fill="#333" font-weight="normal" font-style="normal" >125</text>
<line x1="234.50" y1="483.00" x2="236.30" y2="483.00" stroke="#444" stroke-width="0.6" />
<text stroke="#333" stroke-width="0.1" x="233.80" y="485.20" font-size="6.2" text-anchor="end" fill="#333" font-weight="normal" font-style="normal" >100</text>
<line x1="234.50" y1="507.05" x2="236.30" y2="507.05" stroke="#444" stroke-width="0.6" />
<text stroke="#333" stroke-width="0.1" x="233.80" y="509.25" font-size="6.2" text-anchor="end" fill="#333" font-weight="normal" font-style="normal" >75</text>
<line x1="234.50" y1="531.10" x2="236.30" y2="531.10" stroke="#444" stroke-width="0.6" />
<text stroke="#333" stroke-width="0.1" x="233.80" y="533.30" font-size="6.2" text-anchor="end" fill="#333" font-weight="normal" font-style="normal" >50</text>
<line x1="234.50" y1="555.15" x2="236.30" y2="555.15" stroke="#444" stroke-width="0.6" />
<text stroke="#333" stroke-width="0.1" x="233.80" y="557.35" font-size="6.2" text-anchor="end" fill="#333" font-weight="normal" font-style="normal" >25</text>
<line x1="234.50" y1="579.20" x2="236.30" y2="579.20" stroke="#444" stroke-width="0.6" />
<text stroke="#333" stroke-width="0.1" x="233.80" y="581.40" font-size="6.2" text-anchor="end" fill="#333" font-weight="normal" font-style="normal" >0</text>
<line x1="266.80" y1="585.00" x2="266.80" y2="586.80" stroke="#444" stroke-width="0.6" />
<line x1="320.10" y1="585.00" x2="320.10" y2="586.80" stroke="#444" stroke-width="0.6" />
<text stroke="#222" stroke-width="0.1" transform="translate(220.90,519.50) rotate(-90)" font-size="8.4" text-anchor="middle" fill="#222" font-style="normal" >Cell Proliferation (%)</text>
<text stroke="#222" stroke-width="0.1" x="266.90" y="592.60" font-size="8" text-anchor="middle" fill="#222" font-weight="normal" font-style="normal" >IOMM−Lee</text>
<text stroke="#222" stroke-width="0.1" x="320.10" y="592.60" font-size="8" text-anchor="middle" fill="#222" font-weight="normal" font-style="normal" >SF3061</text>
<rect x="251.00" y="483.00" width="15.70" height="96.20" fill="#0D3B80" stroke="#222" stroke-width="0.6" />
<rect x="266.70" y="498.39" width="14.90" height="80.81" fill="#E0661B" stroke="#222" stroke-width="0.6" />
<rect x="304.20" y="483.00" width="15.90" height="96.20" fill="#0D3B80" stroke="#222" stroke-width="0.6" />
<rect x="320.10" y="490.70" width="15.40" height="88.50" fill="#E0661B" stroke="#222" stroke-width="0.6" />
<line x1="258.85" y1="479.15" x2="258.85" y2="486.85" stroke="#333" stroke-width="0.6" />
<line x1="256.65" y1="479.15" x2="261.05" y2="479.15" stroke="#333" stroke-width="0.6" />
<line x1="256.65" y1="486.85" x2="261.05" y2="486.85" stroke="#333" stroke-width="0.6" />
<line x1="274.15" y1="497.43" x2="274.15" y2="499.35" stroke="#333" stroke-width="0.6" />
<line x1="271.95" y1="497.43" x2="276.35" y2="497.43" stroke="#333" stroke-width="0.6" />
<line x1="271.95" y1="499.35" x2="276.35" y2="499.35" stroke="#333" stroke-width="0.6" />
<line x1="312.15" y1="481.08" x2="312.15" y2="484.44" stroke="#333" stroke-width="0.6" />
<line x1="309.95" y1="481.08" x2="314.35" y2="481.08" stroke="#333" stroke-width="0.6" />
<line x1="309.95" y1="484.44" x2="314.35" y2="484.44" stroke="#333" stroke-width="0.6" />
<line x1="327.80" y1="487.81" x2="327.80" y2="493.10" stroke="#333" stroke-width="0.6" />
<line x1="325.60" y1="487.81" x2="330.00" y2="487.81" stroke="#333" stroke-width="0.6" />
<line x1="325.60" y1="493.10" x2="330.00" y2="493.10" stroke="#333" stroke-width="0.6" />
<circle cx="258.30" cy="479.15" r="1.80" fill="#fff" stroke="#999" stroke-width="0.6" fill-opacity="0.6"/>
<circle cx="259.20" cy="483.96" r="1.80" fill="#fff" stroke="#999" stroke-width="0.6" fill-opacity="0.6"/>
<circle cx="258.80" cy="485.89" r="1.80" fill="#fff" stroke="#999" stroke-width="0.6" fill-opacity="0.6"/>
<circle cx="274.10" cy="498.39" r="1.80" fill="#fff" stroke="#999" stroke-width="0.6" fill-opacity="0.6"/>
<circle cx="312.00" cy="482.04" r="1.80" fill="#fff" stroke="#999" stroke-width="0.6" fill-opacity="0.6"/>
<circle cx="312.40" cy="483.48" r="1.80" fill="#fff" stroke="#999" stroke-width="0.6" fill-opacity="0.6"/>
<circle cx="327.80" cy="488.77" r="1.80" fill="#fff" stroke="#999" stroke-width="0.6" fill-opacity="0.6"/>
<circle cx="327.60" cy="491.66" r="1.80" fill="#fff" stroke="#999" stroke-width="0.6" fill-opacity="0.6"/>
<circle cx="327.80" cy="493.10" r="1.80" fill="#fff" stroke="#999" stroke-width="0.6" fill-opacity="0.6"/>
<path d="M259,473.6 L259,471.6 L275.2,471.6 L275.2,473.6" fill="none" stroke="#333" stroke-width="0.6"/>
<text stroke="#333" stroke-width="0.1" x="267.20" y="469.20" font-size="4.4" text-anchor="middle" fill="#333" font-weight="normal" font-style="normal" >0.002</text>
<path d="M312.3,475.5 L312.3,473.5 L328.4,473.5 L328.4,475.5" fill="none" stroke="#333" stroke-width="0.6"/>
<text stroke="#333" stroke-width="0.1" x="320.30" y="471.60" font-size="4.4" text-anchor="middle" fill="#333" font-weight="normal" font-style="normal" >0.009</text>
<text x="370.40" y="428.50" font-size="13" text-anchor="start" fill="#222" font-weight="bold" font-style="normal" >i</text>
<line x1="380.30" y1="449.10" x2="614.30" y2="449.10" stroke="#C6E6EE" stroke-width="0.6" stroke-dasharray="2.2,1.6"/>
<line x1="380.30" y1="480.55" x2="614.30" y2="480.55" stroke="#C6E6EE" stroke-width="0.6" stroke-dasharray="2.2,1.6"/>
<line x1="380.30" y1="512.00" x2="614.30" y2="512.00" stroke="#C6E6EE" stroke-width="0.6" stroke-dasharray="2.2,1.6"/>
<line x1="380.30" y1="543.45" x2="614.30" y2="543.45" stroke="#C6E6EE" stroke-width="0.6" stroke-dasharray="2.2,1.6"/>
<line x1="380.30" y1="443.40" x2="380.30" y2="581.10" stroke="#333" stroke-width="0.8" />
<line x1="380.30" y1="581.10" x2="611.00" y2="581.10" stroke="#333" stroke-width="0.8" />
<line x1="378.80" y1="449.10" x2="380.30" y2="449.10" stroke="#444" stroke-width="0.5" />
<text stroke="#222" stroke-width="0.1" x="378.20" y="450.80" font-size="4.9" text-anchor="end" fill="#222" font-weight="normal" font-style="normal" >100</text>
<line x1="378.80" y1="480.55" x2="380.30" y2="480.55" stroke="#444" stroke-width="0.5" />
<text stroke="#222" stroke-width="0.1" x="378.20" y="482.25" font-size="4.9" text-anchor="end" fill="#222" font-weight="normal" font-style="normal" >75</text>
<line x1="378.80" y1="512.00" x2="380.30" y2="512.00" stroke="#444" stroke-width="0.5" />
<text stroke="#222" stroke-width="0.1" x="378.20" y="513.70" font-size="4.9" text-anchor="end" fill="#222" font-weight="normal" font-style="normal" >50</text>
<line x1="378.80" y1="543.45" x2="380.30" y2="543.45" stroke="#444" stroke-width="0.5" />
<text stroke="#222" stroke-width="0.1" x="378.20" y="545.15" font-size="4.9" text-anchor="end" fill="#222" font-weight="normal" font-style="normal" >25</text>
<line x1="378.80" y1="574.90" x2="380.30" y2="574.90" stroke="#444" stroke-width="0.5" />
<text stroke="#222" stroke-width="0.1" x="378.20" y="576.60" font-size="4.9" text-anchor="end" fill="#222" font-weight="normal" font-style="normal" >0</text>
<text stroke="#222" stroke-width="0.1" x="443.90" y="447.30" font-size="7.7" text-anchor="middle" fill="#222" font-weight="normal" font-style="normal" >IOMM-Lee</text>
<text stroke="#222" stroke-width="0.1" x="570.00" y="447.30" font-size="7.4" text-anchor="middle" fill="#222" font-weight="normal" font-style="normal" >SF3061</text>
<text stroke="#222" stroke-width="0.1" transform="translate(366.60,508.00) rotate(-90)" font-size="8.5" text-anchor="middle" fill="#222" font-style="normal" >Proportion (%)</text>
<text stroke="#222" stroke-width="0.1" x="407.60" y="589.20" font-size="7.2" text-anchor="middle" fill="#222" font-weight="normal" font-style="normal" >G1</text>
<text stroke="#222" stroke-width="0.1" x="438.20" y="589.20" font-size="7.2" text-anchor="middle" fill="#222" font-weight="normal" font-style="normal" >S</text>
<text stroke="#222" stroke-width="0.1" x="472.60" y="589.20" font-size="7.2" text-anchor="middle" fill="#222" font-weight="normal" font-style="normal" >G2/M</text>
<text stroke="#222" stroke-width="0.1" x="538.60" y="589.20" font-size="7.2" text-anchor="middle" fill="#222" font-weight="normal" font-style="normal" >G1</text>
<text stroke="#222" stroke-width="0.1" x="570.10" y="589.20" font-size="7.2" text-anchor="middle" fill="#222" font-weight="normal" font-style="normal" >S</text>
<text stroke="#222" stroke-width="0.1" x="603.80" y="589.20" font-size="7.2" text-anchor="middle" fill="#222" font-weight="normal" font-style="normal" >G2/M</text>
<text stroke="#222" stroke-width="0.1" x="500.40" y="598.70" font-size="8.1" text-anchor="middle" fill="#222" font-weight="normal" font-style="normal" >Phase</text>
<rect x="394.20" y="506.97" width="12.20" height="67.93" fill="#0D3B80" stroke="#222" stroke-width="0.6" />
<line x1="398.30" y1="505.67" x2="402.30" y2="505.67" stroke="#222" stroke-width="0.6" />
<line x1="400.30" y1="505.67" x2="400.30" y2="508.27" stroke="#222" stroke-width="0.6" />
<circle cx="400.30" cy="507.27" r="1.60" fill="#e8e8e8" stroke="#999" stroke-width="0.5" fill-opacity="0.8"/>
<rect x="406.40" y="486.84" width="11.90" height="88.06" fill="#E0661B" stroke="#222" stroke-width="0.6" />
<line x1="410.35" y1="485.54" x2="414.35" y2="485.54" stroke="#222" stroke-width="0.6" />
<line x1="412.35" y1="485.54" x2="412.35" y2="488.14" stroke="#222" stroke-width="0.6" />
<circle cx="412.35" cy="487.14" r="1.60" fill="#e8e8e8" stroke="#999" stroke-width="0.5" fill-opacity="0.8"/>
<rect x="425.30" y="549.74" width="12.10" height="25.16" fill="#0D3B80" stroke="#222" stroke-width="0.6" />
<line x1="429.35" y1="548.44" x2="433.35" y2="548.44" stroke="#222" stroke-width="0.6" />
<line x1="431.35" y1="548.44" x2="431.35" y2="551.04" stroke="#222" stroke-width="0.6" />
<circle cx="431.35" cy="550.04" r="1.60" fill="#e8e8e8" stroke="#999" stroke-width="0.5" fill-opacity="0.8"/>
<rect x="437.40" y="562.32" width="11.40" height="12.58" fill="#E0661B" stroke="#222" stroke-width="0.6" />
<line x1="441.10" y1="561.02" x2="445.10" y2="561.02" stroke="#222" stroke-width="0.6" />
<line x1="443.10" y1="561.02" x2="443.10" y2="563.62" stroke="#222" stroke-width="0.6" />
<circle cx="443.10" cy="562.62" r="1.60" fill="#e8e8e8" stroke="#999" stroke-width="0.5" fill-opacity="0.8"/>
<rect x="456.80" y="542.19" width="12.40" height="32.71" fill="#0D3B80" stroke="#222" stroke-width="0.6" />
<line x1="461.00" y1="540.89" x2="465.00" y2="540.89" stroke="#222" stroke-width="0.6" />
<line x1="463.00" y1="540.89" x2="463.00" y2="543.49" stroke="#222" stroke-width="0.6" />
<circle cx="463.00" cy="542.49" r="1.60" fill="#e8e8e8" stroke="#999" stroke-width="0.5" fill-opacity="0.8"/>
<rect x="469.20" y="549.74" width="11.40" height="25.16" fill="#E0661B" stroke="#222" stroke-width="0.6" />
<line x1="472.90" y1="548.44" x2="476.90" y2="548.44" stroke="#222" stroke-width="0.6" />
<line x1="474.90" y1="548.44" x2="474.90" y2="551.04" stroke="#222" stroke-width="0.6" />
<circle cx="474.90" cy="550.04" r="1.60" fill="#e8e8e8" stroke="#999" stroke-width="0.5" fill-opacity="0.8"/>
<rect x="524.40" y="467.97" width="12.20" height="106.93" fill="#0D3B80" stroke="#222" stroke-width="0.6" />
<line x1="528.50" y1="466.67" x2="532.50" y2="466.67" stroke="#222" stroke-width="0.6" />
<line x1="530.50" y1="466.67" x2="530.50" y2="469.27" stroke="#222" stroke-width="0.6" />
<circle cx="530.50" cy="468.27" r="1.60" fill="#e8e8e8" stroke="#999" stroke-width="0.5" fill-opacity="0.8"/>
<rect x="536.60" y="463.32" width="11.90" height="111.58" fill="#E0661B" stroke="#222" stroke-width="0.6" />
<line x1="540.55" y1="462.02" x2="544.55" y2="462.02" stroke="#222" stroke-width="0.6" />
<line x1="542.55" y1="462.02" x2="542.55" y2="464.62" stroke="#222" stroke-width="0.6" />
<circle cx="542.55" cy="463.62" r="1.60" fill="#e8e8e8" stroke="#999" stroke-width="0.5" fill-opacity="0.8"/>
<rect x="557.20" y="570.50" width="11.60" height="4.40" fill="#0D3B80" stroke="#222" stroke-width="0.6" />
<line x1="561.00" y1="569.20" x2="565.00" y2="569.20" stroke="#222" stroke-width="0.6" />
<line x1="563.00" y1="569.20" x2="563.00" y2="571.80" stroke="#222" stroke-width="0.6" />
<circle cx="563.00" cy="570.80" r="1.60" fill="#e8e8e8" stroke="#999" stroke-width="0.5" fill-opacity="0.8"/>
<rect x="568.80" y="573.01" width="12.00" height="1.89" fill="#E0661B" stroke="#222" stroke-width="0.6" />
<line x1="572.80" y1="571.71" x2="576.80" y2="571.71" stroke="#222" stroke-width="0.6" />
<line x1="574.80" y1="571.71" x2="574.80" y2="574.31" stroke="#222" stroke-width="0.6" />
<circle cx="574.80" cy="573.31" r="1.60" fill="#e8e8e8" stroke="#999" stroke-width="0.5" fill-opacity="0.8"/>
<rect x="589.40" y="561.06" width="12.40" height="13.84" fill="#0D3B80" stroke="#222" stroke-width="0.6" />
<line x1="593.60" y1="559.76" x2="597.60" y2="559.76" stroke="#222" stroke-width="0.6" />
<line x1="595.60" y1="559.76" x2="595.60" y2="562.36" stroke="#222" stroke-width="0.6" />
<circle cx="595.60" cy="561.36" r="1.60" fill="#e8e8e8" stroke="#999" stroke-width="0.5" fill-opacity="0.8"/>
<rect x="601.80" y="563.58" width="11.20" height="11.32" fill="#E0661B" stroke="#222" stroke-width="0.6" />
<line x1="605.40" y1="562.28" x2="609.40" y2="562.28" stroke="#222" stroke-width="0.6" />
<line x1="607.40" y1="562.28" x2="607.40" y2="564.88" stroke="#222" stroke-width="0.6" />
<circle cx="607.40" cy="563.88" r="1.60" fill="#e8e8e8" stroke="#999" stroke-width="0.5" fill-opacity="0.8"/>
<path d="M400.20,479.70 L400.20,477.70 L412.10,477.70 L412.10,479.70" fill="none" stroke="#333" stroke-width="0.6"/>
<text stroke="#333" stroke-width="0.1" x="406.15" y="475.00" font-size="4.4" text-anchor="middle" fill="#333" font-weight="normal" font-style="normal" >1.7e-08</text>
<path d="M431.50,541.50 L431.50,539.50 L443.40,539.50 L443.40,541.50" fill="none" stroke="#333" stroke-width="0.6"/>
<text stroke="#333" stroke-width="0.1" x="437.45" y="536.60" font-size="4.4" text-anchor="middle" fill="#333" font-weight="normal" font-style="normal" >6.0e-10</text>
<path d="M463.00,534.80 L463.00,532.80 L474.60,532.80 L474.60,534.80" fill="none" stroke="#333" stroke-width="0.6"/>
<text stroke="#333" stroke-width="0.1" x="468.80" y="530.20" font-size="4.4" text-anchor="middle" fill="#333" font-weight="normal" font-style="normal" >1.2e-06</text>
<path d="M530.40,459.60 L530.40,457.60 L542.30,457.60 L542.30,459.60" fill="none" stroke="#333" stroke-width="0.6"/>
<text stroke="#333" stroke-width="0.1" x="536.35" y="454.60" font-size="4.4" text-anchor="middle" fill="#333" font-weight="normal" font-style="normal" >3.2e-05</text>
<path d="M562.90,563.80 L562.90,561.80 L575.00,561.80 L575.00,563.80" fill="none" stroke="#333" stroke-width="0.6"/>
<text stroke="#333" stroke-width="0.1" x="568.95" y="559.30" font-size="4.4" text-anchor="middle" fill="#333" font-weight="normal" font-style="normal" >0.00253</text>
<path d="M595.60,557.60 L595.60,555.60 L607.30,555.60 L607.30,557.60" fill="none" stroke="#333" stroke-width="0.6"/>
<text stroke="#333" stroke-width="0.1" x="601.45" y="552.70" font-size="4.4" text-anchor="middle" fill="#333" font-weight="normal" font-style="normal" >0.00031</text>
<text stroke="#222" stroke-width="0.1" x="620.50" y="474.60" font-size="7.0" text-anchor="start" fill="#222" font-weight="normal" font-style="normal" >siRNA</text>
<rect x="619.70" y="484.40" width="8.90" height="7.90" fill="#0D3B80" stroke="#222" stroke-width="0.6" />
<text stroke="#222" stroke-width="0.1" x="631.10" y="490.90" font-size="7.0" text-anchor="start" fill="#222" font-weight="normal" font-style="normal" >Scrambled</text>
<rect x="619.70" y="495.50" width="8.90" height="8.20" fill="#E0661B" stroke="#222" stroke-width="0.6" />
<text stroke="#222" stroke-width="0.1" x="631.10" y="502.00" font-size="7.0" text-anchor="start" fill="#222" font-weight="normal" font-style="normal" >siCOL6A3</text>
<text x="15.10" y="629.00" font-size="13" text-anchor="start" fill="#222" font-weight="bold" font-style="normal" >g</text>
<line x1="76.60" y1="634.60" x2="86.60" y2="634.60" stroke="#5B86C9" stroke-width="2.0" />
<line x1="81.60" y1="632.40" x2="81.60" y2="636.80" stroke="#5B86C9" stroke-width="0.8" />
<text stroke="#222" stroke-width="0.1" x="89.0" y="637.6" font-size="7.8" fill="#222"><tspan font-style="italic">COL6A3</tspan> <tspan dx="2.4">Low</tspan></text>
<line x1="144.40" y1="634.60" x2="154.50" y2="634.60" stroke="#F2A8B7" stroke-width="2.0" />
<line x1="149.40" y1="632.40" x2="149.40" y2="636.80" stroke="#F2A8B7" stroke-width="0.8" />
<text stroke="#222" stroke-width="0.1" x="156.8" y="637.6" font-size="7.8" fill="#222"><tspan font-style="italic">COL6A3</tspan> High</text>
<line x1="37.00" y1="645.10" x2="37.00" y2="762.10" stroke="#333" stroke-width="1.2" />
<line x1="37.00" y1="762.10" x2="219.90" y2="762.10" stroke="#222" stroke-width="1.0" />
<line x1="35.20" y1="649.90" x2="37.00" y2="649.90" stroke="#222" stroke-width="0.6" />
<text stroke="#444" stroke-width="0.1" x="34.20" y="651.90" font-size="5.7" text-anchor="end" fill="#444" font-weight="normal" font-style="normal" >1.00</text>
<line x1="35.20" y1="676.70" x2="37.00" y2="676.70" stroke="#222" stroke-width="0.6" />
<text stroke="#444" stroke-width="0.1" x="34.20" y="678.70" font-size="5.7" text-anchor="end" fill="#444" font-weight="normal" font-style="normal" >0.75</text>
<line x1="35.20" y1="703.50" x2="37.00" y2="703.50" stroke="#222" stroke-width="0.6" />
<text stroke="#444" stroke-width="0.1" x="34.20" y="705.50" font-size="5.7" text-anchor="end" fill="#444" font-weight="normal" font-style="normal" >0.50</text>
<line x1="35.20" y1="730.30" x2="37.00" y2="730.30" stroke="#222" stroke-width="0.6" />
<text stroke="#444" stroke-width="0.1" x="34.20" y="732.30" font-size="5.7" text-anchor="end" fill="#444" font-weight="normal" font-style="normal" >0.25</text>
<line x1="35.20" y1="757.10" x2="37.00" y2="757.10" stroke="#222" stroke-width="0.6" />
<text stroke="#444" stroke-width="0.1" x="34.20" y="759.10" font-size="5.7" text-anchor="end" fill="#444" font-weight="normal" font-style="normal" >0.00</text>
<line x1="46.20" y1="761.90" x2="46.20" y2="763.40" stroke="#222" stroke-width="0.6" />
<text stroke="#444" stroke-width="0.1" x="46.70" y="768.60" font-size="5.5" text-anchor="middle" fill="#444" font-weight="normal" font-style="normal" >0</text>
<line x1="87.70" y1="761.90" x2="87.70" y2="763.40" stroke="#222" stroke-width="0.6" />
<text stroke="#444" stroke-width="0.1" x="88.20" y="768.60" font-size="5.5" text-anchor="middle" fill="#444" font-weight="normal" font-style="normal" >25</text>
<line x1="129.20" y1="761.90" x2="129.20" y2="763.40" stroke="#222" stroke-width="0.6" />
<text stroke="#444" stroke-width="0.1" x="129.70" y="768.60" font-size="5.5" text-anchor="middle" fill="#444" font-weight="normal" font-style="normal" >50</text>
<line x1="170.70" y1="761.90" x2="170.70" y2="763.40" stroke="#222" stroke-width="0.6" />
<text stroke="#444" stroke-width="0.1" x="171.20" y="768.60" font-size="5.5" text-anchor="middle" fill="#444" font-weight="normal" font-style="normal" >75</text>
<text stroke="#222" stroke-width="0.1" transform="translate(17.20,710.60) rotate(-90)" font-size="8.9" text-anchor="middle" fill="#222" font-style="normal" >Relapse-Free Survival</text>
<text stroke="#222" stroke-width="0.1" x="48.7" y="738.7" font-size="7" fill="#222"><tspan font-style="italic">p</tspan> = 0.015</text>
<path d="M44.60,649.90 L73.80,649.90 L73.80,651.70 L75.30,651.70 L75.30,652.80 L80.40,652.80 L80.40,655.00 L82.50,655.00 L82.50,658.00 L107.40,658.00 L107.40,662.20 L116.10,662.20 L116.10,666.80 L132.40,666.80 L132.40,673.10 L176.10,673.10 L176.10,694.20 L202.90,694.20" fill="none" stroke="#5B86C9" stroke-width="1.9" stroke-linejoin="miter"/>
<path d="M44.60,649.90 L64.30,649.90 L64.30,653.40 L68.70,653.40 L68.70,656.80 L77.40,656.80 L77.40,660.50 L79.50,660.50 L79.50,665.00 L81.50,665.00 L81.50,668.50 L84.00,668.50 L84.00,672.00 L86.00,672.00 L86.00,675.50 L87.50,675.50 L87.50,679.00 L88.50,679.00 L88.50,686.70 L96.90,686.70 L96.90,691.40 L111.80,691.40 L111.80,698.20 L206.00,698.20 L206.00,757.10" fill="none" stroke="#F2A8B7" stroke-width="1.9" stroke-linejoin="miter"/>
<line x1="45.50" y1="647.90" x2="45.50" y2="651.90" stroke="#F2A8B7" stroke-width="0.7" />
<line x1="50.00" y1="647.90" x2="50.00" y2="651.90" stroke="#F2A8B7" stroke-width="0.7" />
<line x1="52.50" y1="647.90" x2="52.50" y2="651.90" stroke="#F2A8B7" stroke-width="0.7" />
<line x1="54.50" y1="647.90" x2="54.50" y2="651.90" stroke="#F2A8B7" stroke-width="0.7" />
<line x1="90.00" y1="684.70" x2="90.00" y2="688.70" stroke="#F2A8B7" stroke-width="0.7" />
<line x1="97.00" y1="689.40" x2="97.00" y2="693.40" stroke="#F2A8B7" stroke-width="0.7" />
<line x1="100.00" y1="689.40" x2="100.00" y2="693.40" stroke="#F2A8B7" stroke-width="0.7" />
<line x1="103.00" y1="689.40" x2="103.00" y2="693.40" stroke="#F2A8B7" stroke-width="0.7" />
<line x1="105.00" y1="689.40" x2="105.00" y2="693.40" stroke="#F2A8B7" stroke-width="0.7" />
<line x1="127.20" y1="696.20" x2="127.20" y2="700.20" stroke="#F2A8B7" stroke-width="0.7" />
<line x1="136.70" y1="696.20" x2="136.70" y2="700.20" stroke="#F2A8B7" stroke-width="0.7" />
<line x1="146.30" y1="696.20" x2="146.30" y2="700.20" stroke="#F2A8B7" stroke-width="0.7" />
<line x1="170.70" y1="696.20" x2="170.70" y2="700.20" stroke="#F2A8B7" stroke-width="0.7" />
<line x1="175.50" y1="696.20" x2="175.50" y2="700.20" stroke="#F2A8B7" stroke-width="0.7" />
<line x1="49.50" y1="647.90" x2="49.50" y2="651.90" stroke="#5B86C9" stroke-width="0.7" />
<line x1="51.00" y1="647.90" x2="51.00" y2="651.90" stroke="#5B86C9" stroke-width="0.7" />
<line x1="54.00" y1="647.90" x2="54.00" y2="651.90" stroke="#5B86C9" stroke-width="0.7" />
<line x1="55.50" y1="647.90" x2="55.50" y2="651.90" stroke="#5B86C9" stroke-width="0.7" />
<line x1="68.00" y1="647.90" x2="68.00" y2="651.90" stroke="#5B86C9" stroke-width="0.7" />
<line x1="70.50" y1="647.90" x2="70.50" y2="651.90" stroke="#5B86C9" stroke-width="0.7" />
<line x1="72.00" y1="647.90" x2="72.00" y2="651.90" stroke="#5B86C9" stroke-width="0.7" />
<line x1="76.00" y1="650.80" x2="76.00" y2="654.80" stroke="#5B86C9" stroke-width="0.7" />
<line x1="78.50" y1="650.80" x2="78.50" y2="654.80" stroke="#5B86C9" stroke-width="0.7" />
<line x1="93.00" y1="656.00" x2="93.00" y2="660.00" stroke="#5B86C9" stroke-width="0.7" />
<line x1="98.00" y1="656.00" x2="98.00" y2="660.00" stroke="#5B86C9" stroke-width="0.7" />
<line x1="99.50" y1="656.00" x2="99.50" y2="660.00" stroke="#5B86C9" stroke-width="0.7" />
<line x1="101.00" y1="656.00" x2="101.00" y2="660.00" stroke="#5B86C9" stroke-width="0.7" />
<line x1="137.50" y1="671.10" x2="137.50" y2="675.10" stroke="#5B86C9" stroke-width="0.7" />
<line x1="140.70" y1="671.10" x2="140.70" y2="675.10" stroke="#5B86C9" stroke-width="0.7" />
<line x1="144.70" y1="671.10" x2="144.70" y2="675.10" stroke="#5B86C9" stroke-width="0.7" />
<line x1="156.60" y1="671.10" x2="156.60" y2="675.10" stroke="#5B86C9" stroke-width="0.7" />
<line x1="175.00" y1="671.10" x2="175.00" y2="675.10" stroke="#5B86C9" stroke-width="0.7" />
<line x1="188.50" y1="692.20" x2="188.50" y2="696.20" stroke="#5B86C9" stroke-width="0.7" />
<line x1="193.30" y1="692.20" x2="193.30" y2="696.20" stroke="#5B86C9" stroke-width="0.7" />
<line x1="202.00" y1="692.20" x2="202.00" y2="696.20" stroke="#5B86C9" stroke-width="0.7" />
<text stroke="#6A8FD0" stroke-width="0.1" x="15.00" y="786.20" font-size="7.5" text-anchor="start" fill="#6A8FD0" font-weight="normal" font-style="normal" >LOW</text>
<text stroke="#F4A9B8" stroke-width="0.1" x="15.00" y="795.60" font-size="7.5" text-anchor="start" fill="#F4A9B8" font-weight="normal" font-style="normal" >HIGH</text>
<line x1="36.30" y1="778.50" x2="36.30" y2="798.00" stroke="#222" stroke-width="1.0" />
<line x1="34.60" y1="783.50" x2="36.30" y2="783.50" stroke="#222" stroke-width="0.6" />
<line x1="34.60" y1="792.90" x2="36.30" y2="792.90" stroke="#222" stroke-width="0.6" />
<line x1="36.30" y1="798.00" x2="220.00" y2="798.00" stroke="#222" stroke-width="1.0" />
<text stroke="#6A8FD0" stroke-width="0.1" x="43.70" y="785.60" font-size="5.8" text-anchor="middle" fill="#6A8FD0" font-weight="normal" font-style="normal" >60</text>
<text stroke="#F4A9B8" stroke-width="0.1" x="43.70" y="795.00" font-size="5.8" text-anchor="middle" fill="#F4A9B8" font-weight="normal" font-style="normal" >50</text>
<text stroke="#6A8FD0" stroke-width="0.1" x="85.60" y="785.60" font-size="5.8" text-anchor="middle" fill="#6A8FD0" font-weight="normal" font-style="normal" >33</text>
<text stroke="#F4A9B8" stroke-width="0.1" x="85.60" y="795.00" font-size="5.8" text-anchor="middle" fill="#F4A9B8" font-weight="normal" font-style="normal" >17</text>
<text stroke="#6A8FD0" stroke-width="0.1" x="126.60" y="785.60" font-size="5.8" text-anchor="middle" fill="#6A8FD0" font-weight="normal" font-style="normal" >14</text>
<text stroke="#F4A9B8" stroke-width="0.1" x="126.60" y="795.00" font-size="5.8" text-anchor="middle" fill="#F4A9B8" font-weight="normal" font-style="normal" >5</text>
<text stroke="#6A8FD0" stroke-width="0.1" x="169.60" y="785.60" font-size="5.8" text-anchor="middle" fill="#6A8FD0" font-weight="normal" font-style="normal" >6</text>
<text stroke="#F4A9B8" stroke-width="0.1" x="169.60" y="795.00" font-size="5.8" text-anchor="middle" fill="#F4A9B8" font-weight="normal" font-style="normal" >3</text>
<text stroke="#6A8FD0" stroke-width="0.1" x="210.90" y="785.60" font-size="5.8" text-anchor="middle" fill="#6A8FD0" font-weight="normal" font-style="normal" >0</text>
<text stroke="#F4A9B8" stroke-width="0.1" x="210.90" y="795.00" font-size="5.8" text-anchor="middle" fill="#F4A9B8" font-weight="normal" font-style="normal" >0</text>
<line x1="45.30" y1="798.00" x2="45.30" y2="799.50" stroke="#222" stroke-width="0.6" />
<text stroke="#444" stroke-width="0.1" x="45.30" y="805.30" font-size="5.5" text-anchor="middle" fill="#444" font-weight="normal" font-style="normal" >0</text>
<line x1="86.60" y1="798.00" x2="86.60" y2="799.50" stroke="#222" stroke-width="0.6" />
<text stroke="#444" stroke-width="0.1" x="86.60" y="805.30" font-size="5.5" text-anchor="middle" fill="#444" font-weight="normal" font-style="normal" >25</text>
<line x1="128.30" y1="798.00" x2="128.30" y2="799.50" stroke="#222" stroke-width="0.6" />
<text stroke="#444" stroke-width="0.1" x="128.30" y="805.30" font-size="5.5" text-anchor="middle" fill="#444" font-weight="normal" font-style="normal" >50</text>
<line x1="170.20" y1="798.00" x2="170.20" y2="799.50" stroke="#222" stroke-width="0.6" />
<text stroke="#444" stroke-width="0.1" x="170.20" y="805.30" font-size="5.5" text-anchor="middle" fill="#444" font-weight="normal" font-style="normal" >75</text>
<line x1="212.20" y1="798.00" x2="212.20" y2="799.50" stroke="#222" stroke-width="0.6" />
<text stroke="#444" stroke-width="0.1" x="212.20" y="805.30" font-size="5.5" text-anchor="middle" fill="#444" font-weight="normal" font-style="normal" >100</text>
<text stroke="#222" stroke-width="0.1" x="128.30" y="814.70" font-size="7.5" text-anchor="middle" fill="#222" font-weight="normal" font-style="normal" >Months</text>
<text x="224.60" y="630.50" font-size="13" text-anchor="start" fill="#222" font-weight="bold" font-style="normal" >j</text>
<text stroke="#222" stroke-width="0.1" x="291.60" y="627.40" font-size="8.2" text-anchor="middle" fill="#222" font-weight="normal" font-style="normal" >MEN08</text>
<text stroke="#222" stroke-width="0.1" x="385.60" y="627.40" font-size="8.2" text-anchor="middle" fill="#222" font-weight="normal" font-style="normal" >MEN09</text>
<text stroke="#222" stroke-width="0.1" transform="translate(238.90,675.00) rotate(-90)" font-size="8.1" text-anchor="middle" fill="#222" font-style="normal" >Primary</text>
<text stroke="#222" stroke-width="0.1" transform="translate(239.00,761.30) rotate(-90)" font-size="8.1" text-anchor="middle" fill="#222" font-style="normal" >Recurrent</text>
<defs>
<filter id="fTL" x="0" y="0" width="100%" height="100%" color-interpolation-filters="sRGB"><feTurbulence type="fractalNoise" baseFrequency="0.9" numOctaves="2" seed="3"/><feColorMatrix type="matrix" values="2.600 0 0 0 -0.900  0 0.000 0 0 0.000  0 0 0 0 0  0 0 0 0 1"/><feColorMatrix type="matrix" values="-0.5804 0.0000 0 0 0.9333  -0.4784 0.0000 0 0 0.9412  -0.2235 0.0000 0 0 0.9608  0 0 0 0 1"/></filter>
<filter id="fTR" x="0" y="0" width="100%" height="100%" color-interpolation-filters="sRGB"><feTurbulence type="fractalNoise" baseFrequency="0.9" numOctaves="2" seed="7"/><feColorMatrix type="matrix" values="2.600 0 0 0 -0.840  0 0.000 0 0 0.000  0 0 0 0 0  0 0 0 0 1"/><feColorMatrix type="matrix" values="-0.6667 0.0000 0 0 0.9098  -0.5725 0.0000 0 0 0.9176  -0.2588 0.0000 0 0 0.9569  0 0 0 0 1"/></filter>
<filter id="fBL" x="0" y="0" width="100%" height="100%" color-interpolation-filters="sRGB"><feTurbulence type="fractalNoise" baseFrequency="0.9" numOctaves="2" seed="11"/><feColorMatrix type="matrix" values="2.200 0 0 0 -0.840  0 2.200 0 0 -0.960  0 0 0 0 0  0 0 0 0 1"/><feColorMatrix type="matrix" values="-0.1922 -0.3843 0 0 0.9412  -0.4078 -0.3216 0 0 0.9333  -0.7059 -0.1255 0 0 0.9255  0 0 0 0 1"/></filter>
<filter id="fBR" x="0" y="0" width="100%" height="100%" color-interpolation-filters="sRGB"><feTurbulence type="fractalNoise" baseFrequency="0.9" numOctaves="2" seed="13"/><feColorMatrix type="matrix" values="2.200 0 0 0 -0.730  0 2.200 0 0 -0.720  0 0 0 0 0  0 0 0 0 1"/><feColorMatrix type="matrix" values="-0.2196 -0.5882 0 0 0.8784  -0.4078 -0.4941 0 0 0.8549  -0.6549 -0.1804 0 0 0.8392  0 0 0 0 1"/></filter>
</defs>
<rect x="243.30" y="630.80" width="93.30" height="86.80" fill="#ccc" filter="url(#fTL)"/>
<rect x="339.60" y="630.50" width="93.80" height="86.90" fill="#ccc" filter="url(#fTR)"/>
<rect x="243.30" y="720.50" width="93.30" height="86.20" fill="#ccc" filter="url(#fBL)"/>
<rect x="339.50" y="720.20" width="93.90" height="86.80" fill="#ccc" filter="url(#fBR)"/>
<path d="M258,674 C262,668 268,662 274,657 C281,651 287,646 293,641 C298,637 304,635 311,635 C318,635 325,637 331,641" fill="none" stroke="#F6F6F6" stroke-linecap="round" stroke-linejoin="round" stroke-width="1.0" stroke-opacity="0.95"/>
<path d="M301,680 C307,682 313,683 320,683" fill="none" stroke="#F6F6F6" stroke-linecap="round" stroke-linejoin="round" stroke-width="1.3" stroke-opacity="0.85"/>
<circle cx="266.20" cy="698.50" r="0.90" fill="#333" stroke="none" stroke-width="0.6" />
<line x1="306.40" y1="710.60" x2="332.80" y2="710.60" stroke="#111" stroke-width="1.4" />
<path d="M353,644.5 C358,645 363,646.5 368,648.5 C373,650.3 378,651.8 383,654 C389,656.5 394,659 400,662 C406,665 412,667.8 418,671 C424,674.5 429,678.5 433.4,682.5 L433.4,685.5 C428,682 423,679 417,675.5 C411,672.5 405,669.5 399,666.5 C393,663.7 388,661 382,658.5 C376,656 371,654 366,651.8 C361,649.8 357,648 353,646.8 Z" fill="#F6F6F6" stroke="none" opacity="0.85"/>
<path d="M376,631 C378,634 380,637 379,641" fill="none" stroke="#F6F6F6" stroke-linecap="round" stroke-linejoin="round" stroke-width="2.0" stroke-opacity="0.85"/>
<path d="M412,634 C415,637 418,640 419,643" fill="none" stroke="#F6F6F6" stroke-linecap="round" stroke-linejoin="round" stroke-width="1.6" stroke-opacity="0.7"/>
<path d="M362,717 C363,713 366,710 369,709" fill="none" stroke="#F6F6F6" stroke-linecap="round" stroke-linejoin="round" stroke-width="2.0" stroke-opacity="0.9"/>
<path d="M386,686 C387,688 386,690 385,691" fill="none" stroke="#F6F6F6" stroke-linecap="round" stroke-linejoin="round" stroke-width="1.6" stroke-opacity="0.7"/>
<path d="M395,676 C396,677 397,679 396,680" fill="none" stroke="#F6F6F6" stroke-linecap="round" stroke-linejoin="round" stroke-width="1.4" stroke-opacity="0.6"/>
<circle cx="302.50" cy="806.00" r="1.60" fill="#fff" stroke="none" stroke-width="0.6" />
<defs><radialGradient id="gBr" cx="0.6" cy="0.35" r="0.55"><stop offset="0" stop-color="#B07A30" stop-opacity="0.15"/><stop offset="1" stop-color="#B07A30" stop-opacity="0"/></radialGradient><linearGradient id="gBl" x1="0" y1="0" x2="1" y2="0"><stop offset="0" stop-color="#4A5CA8" stop-opacity="0.3"/><stop offset="0.3" stop-color="#4A5CA8" stop-opacity="0"/></linearGradient></defs>
<rect x="339.5" y="720.2" width="93.9" height="86.8" fill="url(#gBr)"/>
<rect x="339.5" y="720.2" width="93.9" height="86.8" fill="url(#gBl)"/>
<path d="M368.7,788.6 C372,787.5 377,787.3 381,787 C386,786 391,784.5 396.3,782.4 C401,780 406,777.5 411.6,774.8 C417,772 422,770 427,767.9 L431.6,765.6 L433.4,765 L433.4,774.5 L431.6,774.8 C430,775.3 428.5,775.8 427,776.3 C422,779 418,780.5 414.7,782.4 C410,786 405,789 400.9,791.6 C396,794 392,795.5 388.6,796.2 C384,796.6 379,796 374.9,794.7 C371.5,793 369.5,791 368.7,788.6 Z" fill="#F6F6F6" stroke="none"/>
<path d="M375,720 C377,725 378,731 376,736 C374,739 370,740 367,739" fill="none" stroke="#F6F6F6" stroke-linecap="round" stroke-linejoin="round" stroke-width="2.2"/>
<path d="M357,749 C359,756 358,763 357,770 C356,777 354,783 352,790" fill="none" stroke="#F6F6F6" stroke-linecap="round" stroke-linejoin="round" stroke-width="1.8"/>
<path d="M370,766 C374,764 378,763 382,762" fill="none" stroke="#F6F6F6" stroke-linecap="round" stroke-linejoin="round" stroke-width="2.0"/>
<path d="M353,738 C357,740 361,742 365,743" fill="none" stroke="#F6F6F6" stroke-linecap="round" stroke-linejoin="round" stroke-width="2.4"/>
<path d="M356,748 C359,750 362,752 362,755" fill="none" stroke="#F6F6F6" stroke-linecap="round" stroke-linejoin="round" stroke-width="1.8"/>
<text x="442.40" y="629.00" font-size="13" text-anchor="start" fill="#222" font-weight="bold" font-style="normal" >k</text>
<rect x="477.30" y="629.00" width="174.80" height="162.50" fill="none" stroke="#222" stroke-width="0.9" />
<line x1="475.50" y1="649.20" x2="477.30" y2="649.20" stroke="#222" stroke-width="0.6" />
<text stroke="#222" stroke-width="0.1" x="474.40" y="651.80" font-size="7.3" text-anchor="end" fill="#222" font-weight="normal" font-style="normal" >4</text>
<line x1="475.50" y1="675.30" x2="477.30" y2="675.30" stroke="#222" stroke-width="0.6" />
<text stroke="#222" stroke-width="0.1" x="474.40" y="677.90" font-size="7.3" text-anchor="end" fill="#222" font-weight="normal" font-style="normal" >3</text>
<line x1="475.50" y1="701.40" x2="477.30" y2="701.40" stroke="#222" stroke-width="0.6" />
<text stroke="#222" stroke-width="0.1" x="474.40" y="704.00" font-size="7.3" text-anchor="end" fill="#222" font-weight="normal" font-style="normal" >2</text>
<line x1="475.50" y1="727.50" x2="477.30" y2="727.50" stroke="#222" stroke-width="0.6" />
<text stroke="#222" stroke-width="0.1" x="474.40" y="730.10" font-size="7.3" text-anchor="end" fill="#222" font-weight="normal" font-style="normal" >1</text>
<line x1="475.50" y1="753.60" x2="477.30" y2="753.60" stroke="#222" stroke-width="0.6" />
<text stroke="#222" stroke-width="0.1" x="474.40" y="756.20" font-size="7.3" text-anchor="end" fill="#222" font-weight="normal" font-style="normal" >0</text>
<line x1="475.50" y1="779.70" x2="477.30" y2="779.70" stroke="#222" stroke-width="0.6" />
<text stroke="#222" stroke-width="0.1" x="474.40" y="782.30" font-size="7.3" text-anchor="end" fill="#222" font-weight="normal" font-style="normal" >−1</text>
<line x1="524.40" y1="791.50" x2="524.40" y2="793.20" stroke="#222" stroke-width="0.6" />
<line x1="604.50" y1="791.50" x2="604.50" y2="793.20" stroke="#222" stroke-width="0.6" />
<text stroke="#222" stroke-width="0.1" x="538.00" y="640.80" font-size="8.2" fill="#222"><tspan font-style="italic">P</tspan> = 0.000687<tspan font-size="4.9" dy="-3"></tspan></text>
<text stroke="#222" stroke-width="0.1" transform="translate(464.20,712.00) rotate(-90)" font-size="8.3" text-anchor="middle" fill="#222" font-style="normal" >COL6A3 protein exp</text>
<text stroke="#333" stroke-width="0.1" x="522.20" y="802.90" font-size="8.1" text-anchor="middle" fill="#333" font-weight="normal" font-style="normal" >Primary</text>
<text stroke="#333" stroke-width="0.1" x="603.80" y="802.90" font-size="8.1" text-anchor="middle" fill="#333" font-weight="normal" font-style="normal" >Recurrent</text>
<path d="M524.40,646.50 C524.62,647.08 525.32,648.75 525.70,650.00 C526.08,651.25 526.42,652.58 526.70,654.00 C526.98,655.42 527.22,656.93 527.40,658.50 C527.58,660.07 527.77,661.65 527.80,663.40 C527.83,665.15 527.62,667.07 527.60,669.00 C527.58,670.93 527.82,673.00 527.70,675.00 C527.58,677.00 527.15,679.05 526.90,681.00 C526.65,682.95 526.25,684.78 526.20,686.70 C526.15,688.62 526.42,690.55 526.60,692.50 C526.78,694.45 526.92,696.65 527.30,698.40 C527.68,700.15 528.22,701.43 528.90,703.00 C529.58,704.57 530.32,706.38 531.40,707.80 C532.48,709.22 533.83,710.33 535.40,711.50 C536.97,712.67 539.17,713.67 540.80,714.80 C542.43,715.93 543.85,717.13 545.20,718.30 C546.55,719.47 547.87,720.63 548.90,721.80 C549.93,722.97 550.73,724.13 551.40,725.30 C552.07,726.47 552.70,727.63 552.90,728.80 C553.10,729.97 552.87,731.13 552.60,732.30 C552.33,733.47 551.23,734.63 551.30,735.80 C551.37,736.97 552.23,738.13 553.00,739.30 C553.77,740.47 555.00,741.43 555.90,742.80 C556.80,744.17 557.72,745.95 558.40,747.50 C559.08,749.05 560.00,750.75 560.00,752.10 C560.00,753.45 559.27,754.42 558.40,755.60 C557.53,756.78 556.30,758.02 554.80,759.20 C553.30,760.38 551.35,761.53 549.40,762.70 C547.45,763.87 545.18,765.03 543.10,766.20 C541.02,767.37 538.85,768.53 536.90,769.70 C534.95,770.87 532.78,772.22 531.40,773.20 C530.02,774.18 529.38,774.82 528.60,775.60 C527.82,776.38 527.40,776.75 526.70,777.90 C526.00,779.05 524.78,781.73 524.40,782.50 L524.40,782.50 C524.02,781.73 522.80,779.05 522.10,777.90 C521.40,776.75 520.98,776.38 520.20,775.60 C519.42,774.82 518.78,774.18 517.40,773.20 C516.02,772.22 513.85,770.87 511.90,769.70 C509.95,768.53 507.78,767.37 505.70,766.20 C503.62,765.03 501.35,763.87 499.40,762.70 C497.45,761.53 495.50,760.38 494.00,759.20 C492.50,758.02 491.27,756.78 490.40,755.60 C489.53,754.42 488.80,753.45 488.80,752.10 C488.80,750.75 489.72,749.05 490.40,747.50 C491.08,745.95 492.00,744.17 492.90,742.80 C493.80,741.43 495.03,740.47 495.80,739.30 C496.57,738.13 497.43,736.97 497.50,735.80 C497.57,734.63 496.47,733.47 496.20,732.30 C495.93,731.13 495.70,729.97 495.90,728.80 C496.10,727.63 496.73,726.47 497.40,725.30 C498.07,724.13 498.87,722.97 499.90,721.80 C500.93,720.63 502.25,719.47 503.60,718.30 C504.95,717.13 506.37,715.93 508.00,714.80 C509.63,713.67 511.83,712.67 513.40,711.50 C514.97,710.33 516.32,709.22 517.40,707.80 C518.48,706.38 519.22,704.57 519.90,703.00 C520.58,701.43 521.12,700.15 521.50,698.40 C521.88,696.65 522.02,694.45 522.20,692.50 C522.38,690.55 522.65,688.62 522.60,686.70 C522.55,684.78 522.15,682.95 521.90,681.00 C521.65,679.05 521.22,677.00 521.10,675.00 C520.98,673.00 521.22,670.93 521.20,669.00 C521.18,667.07 520.97,665.15 521.00,663.40 C521.03,661.65 521.22,660.07 521.40,658.50 C521.58,656.93 521.82,655.42 522.10,654.00 C522.38,652.58 522.72,651.25 523.10,650.00 C523.48,648.75 524.18,647.08 524.40,646.50 Z" fill="#FCD98A" stroke="#222" stroke-width="0.7" />
<path d="M604.40,646.50 C604.65,647.08 605.37,648.75 605.90,650.00 C606.43,651.25 606.77,652.55 607.60,654.00 C608.43,655.45 609.80,657.13 610.90,658.70 C612.00,660.27 613.12,661.85 614.20,663.40 C615.28,664.95 616.43,666.45 617.40,668.00 C618.37,669.55 619.57,671.13 620.00,672.70 C620.43,674.27 620.17,675.85 620.00,677.40 C619.83,678.95 619.03,680.45 619.00,682.00 C618.97,683.55 619.43,685.13 619.80,686.70 C620.17,688.27 620.83,689.85 621.20,691.40 C621.57,692.95 621.80,694.45 622.00,696.00 C622.20,697.55 622.40,699.13 622.40,700.70 C622.40,702.27 622.18,703.83 622.00,705.40 C621.82,706.97 621.13,708.53 621.30,710.10 C621.47,711.67 622.23,713.25 623.00,714.80 C623.77,716.35 625.17,717.95 625.90,719.40 C626.63,720.85 627.05,722.13 627.40,723.50 C627.75,724.87 628.10,726.23 628.00,727.60 C627.90,728.97 627.35,730.33 626.80,731.70 C626.25,733.07 625.30,734.53 624.70,735.80 C624.10,737.07 623.58,738.13 623.20,739.30 C622.82,740.47 622.62,741.63 622.40,742.80 C622.18,743.97 622.02,745.13 621.90,746.30 C621.78,747.47 621.92,748.43 621.70,749.80 C621.48,751.17 621.07,752.93 620.60,754.50 C620.13,756.07 619.63,757.63 618.90,759.20 C618.17,760.77 617.18,762.35 616.20,763.90 C615.22,765.45 614.07,766.95 613.00,768.50 C611.93,770.05 610.77,771.63 609.80,773.20 C608.83,774.77 608.10,776.35 607.20,777.90 C606.30,779.45 604.87,781.73 604.40,782.50 L604.40,782.50 C603.93,781.73 602.50,779.45 601.60,777.90 C600.70,776.35 599.97,774.77 599.00,773.20 C598.03,771.63 596.87,770.05 595.80,768.50 C594.73,766.95 593.58,765.45 592.60,763.90 C591.62,762.35 590.63,760.77 589.90,759.20 C589.17,757.63 588.67,756.07 588.20,754.50 C587.73,752.93 587.32,751.17 587.10,749.80 C586.88,748.43 587.02,747.47 586.90,746.30 C586.78,745.13 586.62,743.97 586.40,742.80 C586.18,741.63 585.98,740.47 585.60,739.30 C585.22,738.13 584.70,737.07 584.10,735.80 C583.50,734.53 582.55,733.07 582.00,731.70 C581.45,730.33 580.90,728.97 580.80,727.60 C580.70,726.23 581.05,724.87 581.40,723.50 C581.75,722.13 582.17,720.85 582.90,719.40 C583.63,717.95 585.03,716.35 585.80,714.80 C586.57,713.25 587.33,711.67 587.50,710.10 C587.67,708.53 586.98,706.97 586.80,705.40 C586.62,703.83 586.40,702.27 586.40,700.70 C586.40,699.13 586.60,697.55 586.80,696.00 C587.00,694.45 587.23,692.95 587.60,691.40 C587.97,689.85 588.63,688.27 589.00,686.70 C589.37,685.13 589.83,683.55 589.80,682.00 C589.77,680.45 588.97,678.95 588.80,677.40 C588.63,675.85 588.37,674.27 588.80,672.70 C589.23,671.13 590.43,669.55 591.40,668.00 C592.37,666.45 593.52,664.95 594.60,663.40 C595.68,661.85 596.80,660.27 597.90,658.70 C599.00,657.13 600.37,655.45 601.20,654.00 C602.03,652.55 602.37,651.25 602.90,650.00 C603.43,648.75 604.15,647.08 604.40,646.50 Z" fill="#80B88A" stroke="#222" stroke-width="0.7" />
<line x1="530.50" y1="727.70" x2="600.00" y2="676.20" stroke="#333" stroke-width="0.7" stroke-dasharray="2.2,1.6"/>
<line x1="530.50" y1="727.70" x2="602.00" y2="677.80" stroke="#333" stroke-width="0.7" stroke-dasharray="2.2,1.6"/>
<line x1="530.50" y1="727.70" x2="600.00" y2="701.40" stroke="#333" stroke-width="0.7" stroke-dasharray="2.2,1.6"/>
<line x1="530.50" y1="727.70" x2="598.50" y2="727.70" stroke="#333" stroke-width="0.7" stroke-dasharray="2.2,1.6"/>
<line x1="530.50" y1="753.60" x2="598.50" y2="727.70" stroke="#333" stroke-width="0.7" stroke-dasharray="2.2,1.6"/>
<line x1="530.50" y1="753.60" x2="600.00" y2="753.60" stroke="#333" stroke-width="0.7" stroke-dasharray="2.2,1.6"/>
<line x1="530.50" y1="753.60" x2="600.00" y2="701.40" stroke="#333" stroke-width="0.7" stroke-dasharray="2.2,1.6"/>
<line x1="524.40" y1="673.90" x2="524.40" y2="754.50" stroke="#222" stroke-width="0.7" />
<rect x="518.60" y="727.60" width="11.60" height="26.90" fill="#F8B821" stroke="#222" stroke-width="0.7" />
<line x1="518.60" y1="741.00" x2="530.20" y2="741.00" stroke="#E8402A" stroke-width="1.0" />
<line x1="604.40" y1="675.00" x2="604.40" y2="754.50" stroke="#222" stroke-width="0.7" />
<rect x="598.70" y="701.20" width="11.40" height="27.10" fill="#0B6B1F" stroke="#222" stroke-width="0.7" />
<line x1="598.70" y1="728.00" x2="610.10" y2="728.00" stroke="#E8402A" stroke-width="1.0" />
<circle cx="523.80" cy="674.30" r="1.40" fill="none" stroke="#333" stroke-width="0.55" />
<circle cx="523.80" cy="700.30" r="1.40" fill="none" stroke="#333" stroke-width="0.55" />
<circle cx="521.80" cy="727.70" r="1.40" fill="none" stroke="#333" stroke-width="0.55" />
<circle cx="524.40" cy="727.70" r="1.40" fill="none" stroke="#333" stroke-width="0.55" />
<circle cx="529.80" cy="727.70" r="1.40" fill="none" stroke="#333" stroke-width="0.55" />
<circle cx="519.50" cy="753.60" r="1.40" fill="none" stroke="#333" stroke-width="0.55" />
<circle cx="522.00" cy="753.60" r="1.40" fill="none" stroke="#333" stroke-width="0.55" />
<circle cx="526.50" cy="753.60" r="1.40" fill="none" stroke="#333" stroke-width="0.55" />
<circle cx="530.30" cy="753.60" r="1.40" fill="none" stroke="#333" stroke-width="0.55" />
<circle cx="518.50" cy="752.50" r="1.40" fill="none" stroke="#333" stroke-width="0.55" />
<circle cx="528.50" cy="752.30" r="1.40" fill="none" stroke="#333" stroke-width="0.55" />
<circle cx="600.50" cy="676.20" r="1.40" fill="none" stroke="#333" stroke-width="0.55" />
<circle cx="603.00" cy="675.20" r="1.40" fill="none" stroke="#333" stroke-width="0.55" />
<circle cx="605.50" cy="676.80" r="1.40" fill="none" stroke="#333" stroke-width="0.55" />
<circle cx="608.50" cy="676.20" r="1.40" fill="none" stroke="#333" stroke-width="0.55" />
<circle cx="598.80" cy="701.40" r="1.40" fill="none" stroke="#333" stroke-width="0.55" />
<circle cx="601.00" cy="700.80" r="1.40" fill="none" stroke="#333" stroke-width="0.55" />
<circle cx="607.00" cy="701.40" r="1.40" fill="none" stroke="#333" stroke-width="0.55" />
<circle cx="609.50" cy="701.40" r="1.40" fill="none" stroke="#333" stroke-width="0.55" />
<circle cx="599.30" cy="727.70" r="1.40" fill="none" stroke="#333" stroke-width="0.55" />
<circle cx="601.00" cy="726.50" r="1.40" fill="none" stroke="#333" stroke-width="0.55" />
<circle cx="606.00" cy="727.70" r="1.40" fill="none" stroke="#333" stroke-width="0.55" />
<circle cx="599.50" cy="753.60" r="1.40" fill="none" stroke="#333" stroke-width="0.55" />
<circle cx="602.00" cy="753.10" r="1.40" fill="none" stroke="#333" stroke-width="0.55" />
<circle cx="606.50" cy="755.20" r="1.40" fill="none" stroke="#333" stroke-width="0.55" />
</svg></body></html>
